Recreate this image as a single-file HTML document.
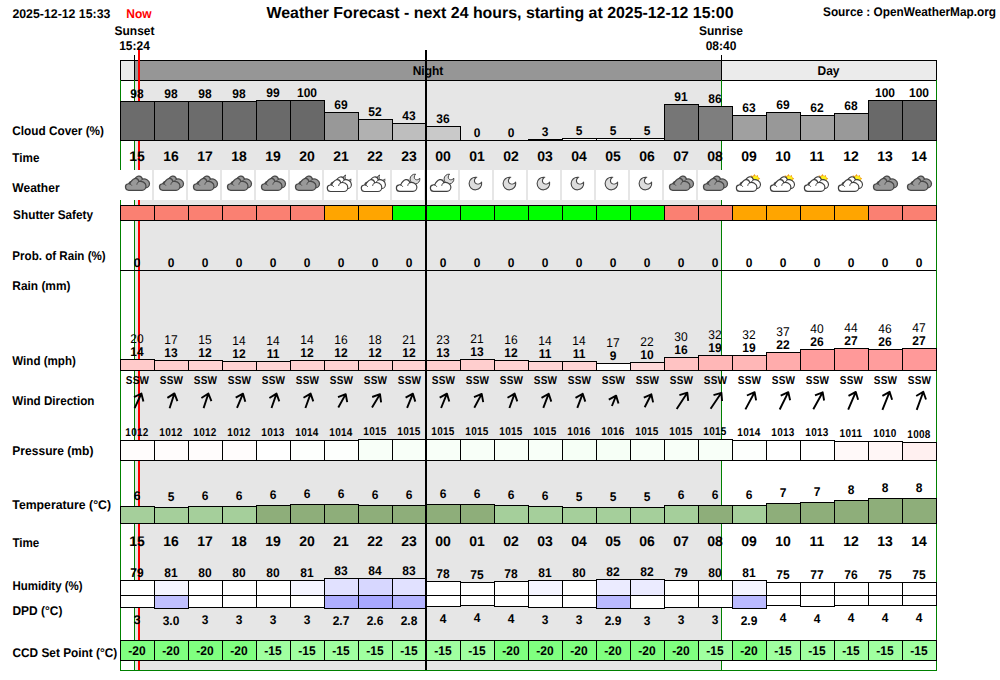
<!DOCTYPE html>
<html lang="en"><head><meta charset="utf-8"><title>Weather Forecast</title>
<style>html,body{margin:0;padding:0;background:#fff}svg{display:block}</style></head>
<body>
<svg width="1000" height="680" viewBox="0 0 1000 680" font-family='"Liberation Sans", sans-serif' shape-rendering="crispEdges" text-rendering="geometricPrecision">
<rect width="1000" height="680" fill="#fff"/>
<rect x="135" y="80" width="586" height="590" fill="#e6e6e6"/>
<text transform="translate(12.4,17.7) scale(1,1.05)" font-size="12" font-weight="bold" text-anchor="start" fill="#000" textLength="98" lengthAdjust="spacingAndGlyphs">2025-12-12 15:33</text>
<text transform="translate(139,18) scale(1,1.05)" font-size="12" font-weight="bold" text-anchor="middle" fill="#f00">Now</text>
<text x="500" y="17.5" font-size="16" font-weight="bold" text-anchor="middle" fill="#000" textLength="467" lengthAdjust="spacingAndGlyphs">Weather Forecast - next 24 hours, starting at 2025-12-12 15:00</text>
<text transform="translate(996,16) scale(1,1.05)" font-size="12" font-weight="bold" text-anchor="end" fill="#000" textLength="173" lengthAdjust="spacingAndGlyphs">Source : OpenWeatherMap.org</text>
<text transform="translate(134.5,35) scale(1,1.05)" font-size="12" font-weight="bold" text-anchor="middle" fill="#000">Sunset</text>
<text transform="translate(134.5,50) scale(1,1.05)" font-size="12" font-weight="bold" text-anchor="middle" fill="#000">15:24</text>
<text transform="translate(721,35) scale(1,1.05)" font-size="12" font-weight="bold" text-anchor="middle" fill="#000">Sunrise</text>
<text transform="translate(721,50) scale(1,1.05)" font-size="12" font-weight="bold" text-anchor="middle" fill="#000">08:40</text>
<text transform="translate(12.3,134.5) scale(1,1.05)" font-size="12" font-weight="bold" text-anchor="start" fill="#000" textLength="91.7" lengthAdjust="spacingAndGlyphs">Cloud Cover (%)</text>
<text transform="translate(12.3,161.5) scale(1,1.05)" font-size="12" font-weight="bold" text-anchor="start" fill="#000" textLength="27.1" lengthAdjust="spacingAndGlyphs">Time</text>
<text transform="translate(12.3,191.5) scale(1,1.05)" font-size="12" font-weight="bold" text-anchor="start" fill="#000" textLength="47.3" lengthAdjust="spacingAndGlyphs">Weather</text>
<text transform="translate(13.1,218.5) scale(1,1.05)" font-size="12" font-weight="bold" text-anchor="start" fill="#000" textLength="80" lengthAdjust="spacingAndGlyphs">Shutter Safety</text>
<text transform="translate(12.3,260) scale(1,1.05)" font-size="12" font-weight="bold" text-anchor="start" fill="#000" textLength="93.4" lengthAdjust="spacingAndGlyphs">Prob. of Rain (%)</text>
<text transform="translate(12.3,289.5) scale(1,1.05)" font-size="12" font-weight="bold" text-anchor="start" fill="#000" textLength="58.2" lengthAdjust="spacingAndGlyphs">Rain (mm)</text>
<text transform="translate(12.3,364.5) scale(1,1.05)" font-size="12" font-weight="bold" text-anchor="start" fill="#000" textLength="63.5" lengthAdjust="spacingAndGlyphs">Wind (mph)</text>
<text transform="translate(12.3,405) scale(1,1.05)" font-size="12" font-weight="bold" text-anchor="start" fill="#000" textLength="82.2" lengthAdjust="spacingAndGlyphs">Wind Direction</text>
<text transform="translate(12.3,454.5) scale(1,1.05)" font-size="12" font-weight="bold" text-anchor="start" fill="#000" textLength="81.1" lengthAdjust="spacingAndGlyphs">Pressure (mb)</text>
<text transform="translate(12.3,508.5) scale(1,1.05)" font-size="12" font-weight="bold" text-anchor="start" fill="#000" textLength="98.7" lengthAdjust="spacingAndGlyphs">Temperature (°C)</text>
<text transform="translate(12.4,547) scale(1,1.05)" font-size="12" font-weight="bold" text-anchor="start" fill="#000" textLength="26.9" lengthAdjust="spacingAndGlyphs">Time</text>
<text transform="translate(12.4,590) scale(1,1.05)" font-size="12" font-weight="bold" text-anchor="start" fill="#000" textLength="70.2" lengthAdjust="spacingAndGlyphs">Humidity (%)</text>
<text transform="translate(12.4,615) scale(1,1.05)" font-size="12" font-weight="bold" text-anchor="start" fill="#000" textLength="50" lengthAdjust="spacingAndGlyphs">DPD (°C)</text>
<text transform="translate(12.4,657) scale(1,1.05)" font-size="12" font-weight="bold" text-anchor="start" fill="#000" textLength="104.9" lengthAdjust="spacingAndGlyphs">CCD Set Point (°C)</text>
<rect x="120.5" y="60.5" width="14" height="20" fill="#ebebeb" stroke="#000" stroke-width="1"/>
<rect x="134.5" y="60.5" width="587" height="20" fill="#969696" stroke="#000" stroke-width="1"/>
<rect x="721.5" y="60.5" width="215" height="20" fill="#ebebeb" stroke="#000" stroke-width="1"/>
<text transform="translate(428,75) scale(1,1.05)" font-size="12" font-weight="bold" text-anchor="middle" fill="#000">Night</text>
<text transform="translate(828.5,75) scale(1,1.05)" font-size="12" font-weight="bold" text-anchor="middle" fill="#000">Day</text>
<rect x="120" y="80" width="1" height="590" fill="#008000"/>
<rect x="936" y="80" width="1" height="591" fill="#008000"/>
<rect x="120" y="670" width="817" height="1" fill="#008000"/>
<rect x="134" y="55" width="1" height="25" fill="#000"/>
<rect x="134" y="80" width="1" height="590" fill="#008000"/>
<rect x="721" y="55" width="1" height="25" fill="#000"/>
<rect x="721" y="80" width="1" height="590" fill="#008000"/>
<rect x="138" y="50" width="2" height="620" fill="#f00"/>
<rect x="120" y="270" width="816" height="1" fill="#000"/>
<rect x="120.5" y="101.5" width="34" height="39" fill="rgb(108,108,108)" stroke="#000" stroke-width="1"/>
<rect x="120.5" y="205.5" width="34" height="15" fill="#fa8072" stroke="#000" stroke-width="1"/>
<rect x="120.5" y="359.5" width="34" height="11" fill="rgb(255,202,202)" stroke="#000" stroke-width="1"/>
<rect x="120.5" y="440.5" width="34" height="20" fill="rgb(255,252,252)" stroke="#000" stroke-width="1"/>
<rect x="120.5" y="506.5" width="34" height="17" fill="#a5cf9b" stroke="#000" stroke-width="1"/>
<rect x="120.5" y="580.5" width="34" height="15" fill="rgb(255,255,255)" stroke="#000" stroke-width="1"/>
<rect x="120.5" y="595.5" width="34" height="12" fill="#fff" stroke="#000" stroke-width="1"/>
<rect x="120.5" y="640.5" width="34" height="20" fill="#80ff80" stroke="#000" stroke-width="1"/>
<text transform="translate(137,654.5) scale(1,1.05)" font-size="12" font-weight="bold" text-anchor="middle" fill="#000">-20</text>
<rect x="154.5" y="101.5" width="34" height="39" fill="rgb(108,108,108)" stroke="#000" stroke-width="1"/>
<rect x="154.5" y="205.5" width="34" height="15" fill="#fa8072" stroke="#000" stroke-width="1"/>
<rect x="154.5" y="360.5" width="34" height="10" fill="rgb(255,206,206)" stroke="#000" stroke-width="1"/>
<rect x="154.5" y="440.5" width="34" height="20" fill="rgb(255,252,252)" stroke="#000" stroke-width="1"/>
<rect x="154.5" y="507.5" width="34" height="16" fill="#a5cf9b" stroke="#000" stroke-width="1"/>
<rect x="154.5" y="580.5" width="34" height="15" fill="rgb(245,245,255)" stroke="#000" stroke-width="1"/>
<rect x="154.5" y="595.5" width="34" height="13" fill="rgb(192,192,255)" stroke="#000" stroke-width="1"/>
<rect x="154.5" y="640.5" width="34" height="20" fill="#80ff80" stroke="#000" stroke-width="1"/>
<text transform="translate(171,654.5) scale(1,1.05)" font-size="12" font-weight="bold" text-anchor="middle" fill="#000">-20</text>
<rect x="188.5" y="101.5" width="34" height="39" fill="rgb(108,108,108)" stroke="#000" stroke-width="1"/>
<rect x="188.5" y="205.5" width="34" height="15" fill="#fa8072" stroke="#000" stroke-width="1"/>
<rect x="188.5" y="360.5" width="34" height="10" fill="rgb(255,210,210)" stroke="#000" stroke-width="1"/>
<rect x="188.5" y="440.5" width="34" height="20" fill="rgb(255,252,252)" stroke="#000" stroke-width="1"/>
<rect x="188.5" y="506.5" width="34" height="17" fill="#a5cf9b" stroke="#000" stroke-width="1"/>
<rect x="188.5" y="580.5" width="34" height="15" fill="rgb(255,255,255)" stroke="#000" stroke-width="1"/>
<rect x="188.5" y="595.5" width="34" height="12" fill="#fff" stroke="#000" stroke-width="1"/>
<rect x="188.5" y="640.5" width="34" height="20" fill="#80ff80" stroke="#000" stroke-width="1"/>
<text transform="translate(205,654.5) scale(1,1.05)" font-size="12" font-weight="bold" text-anchor="middle" fill="#000">-20</text>
<rect x="222.5" y="101.5" width="34" height="39" fill="rgb(108,108,108)" stroke="#000" stroke-width="1"/>
<rect x="222.5" y="205.5" width="34" height="15" fill="#fa8072" stroke="#000" stroke-width="1"/>
<rect x="222.5" y="361.5" width="34" height="9" fill="rgb(255,210,210)" stroke="#000" stroke-width="1"/>
<rect x="222.5" y="440.5" width="34" height="20" fill="rgb(255,252,252)" stroke="#000" stroke-width="1"/>
<rect x="222.5" y="506.5" width="34" height="17" fill="#a5cf9b" stroke="#000" stroke-width="1"/>
<rect x="222.5" y="580.5" width="34" height="15" fill="rgb(255,255,255)" stroke="#000" stroke-width="1"/>
<rect x="222.5" y="595.5" width="34" height="12" fill="#fff" stroke="#000" stroke-width="1"/>
<rect x="222.5" y="640.5" width="34" height="20" fill="#80ff80" stroke="#000" stroke-width="1"/>
<text transform="translate(239,654.5) scale(1,1.05)" font-size="12" font-weight="bold" text-anchor="middle" fill="#000">-20</text>
<rect x="256.5" y="100.5" width="34" height="40" fill="rgb(106,106,106)" stroke="#000" stroke-width="1"/>
<rect x="256.5" y="205.5" width="34" height="15" fill="#fa8072" stroke="#000" stroke-width="1"/>
<rect x="256.5" y="361.5" width="34" height="9" fill="rgb(255,213,213)" stroke="#000" stroke-width="1"/>
<rect x="256.5" y="440.5" width="34" height="20" fill="rgb(255,255,255)" stroke="#000" stroke-width="1"/>
<rect x="256.5" y="505.5" width="34" height="18" fill="#8eae7a" stroke="#000" stroke-width="1"/>
<rect x="256.5" y="580.5" width="34" height="15" fill="rgb(255,255,255)" stroke="#000" stroke-width="1"/>
<rect x="256.5" y="595.5" width="34" height="12" fill="#fff" stroke="#000" stroke-width="1"/>
<rect x="256.5" y="640.5" width="34" height="20" fill="#a0ffa0" stroke="#000" stroke-width="1"/>
<text transform="translate(273,654.5) scale(1,1.05)" font-size="12" font-weight="bold" text-anchor="middle" fill="#000">-15</text>
<rect x="290.5" y="100.5" width="34" height="40" fill="rgb(105,105,105)" stroke="#000" stroke-width="1"/>
<rect x="290.5" y="205.5" width="34" height="15" fill="#fa8072" stroke="#000" stroke-width="1"/>
<rect x="290.5" y="360.5" width="34" height="10" fill="rgb(255,210,210)" stroke="#000" stroke-width="1"/>
<rect x="290.5" y="440.5" width="34" height="20" fill="rgb(253,255,253)" stroke="#000" stroke-width="1"/>
<rect x="290.5" y="504.5" width="34" height="19" fill="#8eae7a" stroke="#000" stroke-width="1"/>
<rect x="290.5" y="580.5" width="34" height="15" fill="rgb(245,245,255)" stroke="#000" stroke-width="1"/>
<rect x="290.5" y="595.5" width="34" height="12" fill="#fff" stroke="#000" stroke-width="1"/>
<rect x="290.5" y="640.5" width="34" height="20" fill="#a0ffa0" stroke="#000" stroke-width="1"/>
<text transform="translate(307,654.5) scale(1,1.05)" font-size="12" font-weight="bold" text-anchor="middle" fill="#000">-15</text>
<rect x="324.5" y="112.5" width="34" height="28" fill="rgb(152,152,152)" stroke="#000" stroke-width="1"/>
<rect x="324.5" y="205.5" width="34" height="15" fill="#ffa500" stroke="#000" stroke-width="1"/>
<rect x="324.5" y="360.5" width="34" height="10" fill="rgb(255,210,210)" stroke="#000" stroke-width="1"/>
<rect x="324.5" y="440.5" width="34" height="20" fill="rgb(253,255,253)" stroke="#000" stroke-width="1"/>
<rect x="324.5" y="504.5" width="34" height="19" fill="#8eae7a" stroke="#000" stroke-width="1"/>
<rect x="324.5" y="578.5" width="34" height="17" fill="rgb(225,225,255)" stroke="#000" stroke-width="1"/>
<rect x="324.5" y="595.5" width="34" height="13" fill="rgb(174,174,255)" stroke="#000" stroke-width="1"/>
<rect x="324.5" y="640.5" width="34" height="20" fill="#a0ffa0" stroke="#000" stroke-width="1"/>
<text transform="translate(341,654.5) scale(1,1.05)" font-size="12" font-weight="bold" text-anchor="middle" fill="#000">-15</text>
<rect x="358.5" y="119.5" width="34" height="21" fill="rgb(177,177,177)" stroke="#000" stroke-width="1"/>
<rect x="358.5" y="205.5" width="34" height="15" fill="#ffa500" stroke="#000" stroke-width="1"/>
<rect x="358.5" y="360.5" width="34" height="10" fill="rgb(255,210,210)" stroke="#000" stroke-width="1"/>
<rect x="358.5" y="439.5" width="34" height="21" fill="rgb(248,255,248)" stroke="#000" stroke-width="1"/>
<rect x="358.5" y="505.5" width="34" height="18" fill="#8eae7a" stroke="#000" stroke-width="1"/>
<rect x="358.5" y="578.5" width="34" height="17" fill="rgb(215,215,255)" stroke="#000" stroke-width="1"/>
<rect x="358.5" y="595.5" width="34" height="13" fill="rgb(168,168,255)" stroke="#000" stroke-width="1"/>
<rect x="358.5" y="640.5" width="34" height="20" fill="#a0ffa0" stroke="#000" stroke-width="1"/>
<text transform="translate(375,654.5) scale(1,1.05)" font-size="12" font-weight="bold" text-anchor="middle" fill="#000">-15</text>
<rect x="392.5" y="123.5" width="34" height="17" fill="rgb(190,190,190)" stroke="#000" stroke-width="1"/>
<rect x="392.5" y="205.5" width="34" height="15" fill="#00ff00" stroke="#000" stroke-width="1"/>
<rect x="392.5" y="360.5" width="34" height="10" fill="rgb(255,210,210)" stroke="#000" stroke-width="1"/>
<rect x="392.5" y="439.5" width="34" height="21" fill="rgb(248,255,248)" stroke="#000" stroke-width="1"/>
<rect x="392.5" y="505.5" width="34" height="18" fill="#8eae7a" stroke="#000" stroke-width="1"/>
<rect x="392.5" y="578.5" width="34" height="17" fill="rgb(225,225,255)" stroke="#000" stroke-width="1"/>
<rect x="392.5" y="595.5" width="34" height="13" fill="rgb(180,180,255)" stroke="#000" stroke-width="1"/>
<rect x="392.5" y="640.5" width="34" height="20" fill="#a0ffa0" stroke="#000" stroke-width="1"/>
<text transform="translate(409,654.5) scale(1,1.05)" font-size="12" font-weight="bold" text-anchor="middle" fill="#000">-15</text>
<rect x="426.5" y="126.5" width="34" height="14" fill="rgb(201,201,201)" stroke="#000" stroke-width="1"/>
<rect x="426.5" y="205.5" width="34" height="15" fill="#00ff00" stroke="#000" stroke-width="1"/>
<rect x="426.5" y="360.5" width="34" height="10" fill="rgb(255,206,206)" stroke="#000" stroke-width="1"/>
<rect x="426.5" y="439.5" width="34" height="21" fill="rgb(248,255,248)" stroke="#000" stroke-width="1"/>
<rect x="426.5" y="504.5" width="34" height="19" fill="#8eae7a" stroke="#000" stroke-width="1"/>
<rect x="426.5" y="581.5" width="34" height="14" fill="rgb(255,255,255)" stroke="#000" stroke-width="1"/>
<rect x="426.5" y="595.5" width="34" height="11" fill="#fff" stroke="#000" stroke-width="1"/>
<rect x="426.5" y="640.5" width="34" height="20" fill="#a0ffa0" stroke="#000" stroke-width="1"/>
<text transform="translate(443,654.5) scale(1,1.05)" font-size="12" font-weight="bold" text-anchor="middle" fill="#000">-15</text>
<rect x="460.5" y="140.5" width="34" height="0" fill="rgb(255,255,255)" stroke="#000" stroke-width="1"/>
<rect x="460" y="140" width="35" height="1" fill="#000"/>
<rect x="460.5" y="205.5" width="34" height="15" fill="#00ff00" stroke="#000" stroke-width="1"/>
<rect x="460.5" y="359.5" width="34" height="11" fill="rgb(255,206,206)" stroke="#000" stroke-width="1"/>
<rect x="460.5" y="439.5" width="34" height="21" fill="rgb(248,255,248)" stroke="#000" stroke-width="1"/>
<rect x="460.5" y="504.5" width="34" height="19" fill="#8eae7a" stroke="#000" stroke-width="1"/>
<rect x="460.5" y="582.5" width="34" height="13" fill="rgb(255,255,255)" stroke="#000" stroke-width="1"/>
<rect x="460.5" y="595.5" width="34" height="10" fill="#fff" stroke="#000" stroke-width="1"/>
<rect x="460.5" y="640.5" width="34" height="20" fill="#a0ffa0" stroke="#000" stroke-width="1"/>
<text transform="translate(477,654.5) scale(1,1.05)" font-size="12" font-weight="bold" text-anchor="middle" fill="#000">-15</text>
<rect x="494.5" y="140.5" width="34" height="0" fill="rgb(255,255,255)" stroke="#000" stroke-width="1"/>
<rect x="494" y="140" width="35" height="1" fill="#000"/>
<rect x="494.5" y="205.5" width="34" height="15" fill="#00ff00" stroke="#000" stroke-width="1"/>
<rect x="494.5" y="360.5" width="34" height="10" fill="rgb(255,210,210)" stroke="#000" stroke-width="1"/>
<rect x="494.5" y="439.5" width="34" height="21" fill="rgb(248,255,248)" stroke="#000" stroke-width="1"/>
<rect x="494.5" y="505.5" width="34" height="18" fill="#a5cf9b" stroke="#000" stroke-width="1"/>
<rect x="494.5" y="581.5" width="34" height="14" fill="rgb(255,255,255)" stroke="#000" stroke-width="1"/>
<rect x="494.5" y="595.5" width="34" height="11" fill="#fff" stroke="#000" stroke-width="1"/>
<rect x="494.5" y="640.5" width="34" height="20" fill="#80ff80" stroke="#000" stroke-width="1"/>
<text transform="translate(511,654.5) scale(1,1.05)" font-size="12" font-weight="bold" text-anchor="middle" fill="#000">-20</text>
<rect x="528.5" y="139.5" width="34" height="1" fill="rgb(250,250,250)" stroke="#000" stroke-width="1"/>
<rect x="528.5" y="205.5" width="34" height="15" fill="#00ff00" stroke="#000" stroke-width="1"/>
<rect x="528.5" y="361.5" width="34" height="9" fill="rgb(255,213,213)" stroke="#000" stroke-width="1"/>
<rect x="528.5" y="439.5" width="34" height="21" fill="rgb(248,255,248)" stroke="#000" stroke-width="1"/>
<rect x="528.5" y="506.5" width="34" height="17" fill="#a5cf9b" stroke="#000" stroke-width="1"/>
<rect x="528.5" y="580.5" width="34" height="15" fill="rgb(245,245,255)" stroke="#000" stroke-width="1"/>
<rect x="528.5" y="595.5" width="34" height="12" fill="#fff" stroke="#000" stroke-width="1"/>
<rect x="528.5" y="640.5" width="34" height="20" fill="#80ff80" stroke="#000" stroke-width="1"/>
<text transform="translate(545,654.5) scale(1,1.05)" font-size="12" font-weight="bold" text-anchor="middle" fill="#000">-20</text>
<rect x="562.5" y="138.5" width="34" height="2" fill="rgb(248,248,248)" stroke="#000" stroke-width="1"/>
<rect x="562.5" y="205.5" width="34" height="15" fill="#00ff00" stroke="#000" stroke-width="1"/>
<rect x="562.5" y="361.5" width="34" height="9" fill="rgb(255,213,213)" stroke="#000" stroke-width="1"/>
<rect x="562.5" y="439.5" width="34" height="21" fill="rgb(246,255,246)" stroke="#000" stroke-width="1"/>
<rect x="562.5" y="507.5" width="34" height="16" fill="#a5cf9b" stroke="#000" stroke-width="1"/>
<rect x="562.5" y="580.5" width="34" height="15" fill="rgb(255,255,255)" stroke="#000" stroke-width="1"/>
<rect x="562.5" y="595.5" width="34" height="12" fill="#fff" stroke="#000" stroke-width="1"/>
<rect x="562.5" y="640.5" width="34" height="20" fill="#80ff80" stroke="#000" stroke-width="1"/>
<text transform="translate(579,654.5) scale(1,1.05)" font-size="12" font-weight="bold" text-anchor="middle" fill="#000">-20</text>
<rect x="596.5" y="138.5" width="34" height="2" fill="rgb(248,248,248)" stroke="#000" stroke-width="1"/>
<rect x="596.5" y="205.5" width="34" height="15" fill="#00ff00" stroke="#000" stroke-width="1"/>
<rect x="596.5" y="363.5" width="34" height="7" fill="rgb(255,255,255)" stroke="#000" stroke-width="1"/>
<rect x="596.5" y="439.5" width="34" height="21" fill="rgb(246,255,246)" stroke="#000" stroke-width="1"/>
<rect x="596.5" y="507.5" width="34" height="16" fill="#a5cf9b" stroke="#000" stroke-width="1"/>
<rect x="596.5" y="579.5" width="34" height="16" fill="rgb(235,235,255)" stroke="#000" stroke-width="1"/>
<rect x="596.5" y="595.5" width="34" height="13" fill="rgb(186,186,255)" stroke="#000" stroke-width="1"/>
<rect x="596.5" y="640.5" width="34" height="20" fill="#80ff80" stroke="#000" stroke-width="1"/>
<text transform="translate(613,654.5) scale(1,1.05)" font-size="12" font-weight="bold" text-anchor="middle" fill="#000">-20</text>
<rect x="630.5" y="138.5" width="34" height="2" fill="rgb(248,248,248)" stroke="#000" stroke-width="1"/>
<rect x="630.5" y="205.5" width="34" height="15" fill="#00ff00" stroke="#000" stroke-width="1"/>
<rect x="630.5" y="362.5" width="34" height="8" fill="rgb(255,217,217)" stroke="#000" stroke-width="1"/>
<rect x="630.5" y="439.5" width="34" height="21" fill="rgb(248,255,248)" stroke="#000" stroke-width="1"/>
<rect x="630.5" y="507.5" width="34" height="16" fill="#a5cf9b" stroke="#000" stroke-width="1"/>
<rect x="630.5" y="579.5" width="34" height="16" fill="rgb(235,235,255)" stroke="#000" stroke-width="1"/>
<rect x="630.5" y="595.5" width="34" height="13" fill="#fff" stroke="#000" stroke-width="1"/>
<rect x="630.5" y="640.5" width="34" height="20" fill="#80ff80" stroke="#000" stroke-width="1"/>
<text transform="translate(647,654.5) scale(1,1.05)" font-size="12" font-weight="bold" text-anchor="middle" fill="#000">-20</text>
<rect x="664.5" y="104.5" width="34" height="36" fill="rgb(118,118,118)" stroke="#000" stroke-width="1"/>
<rect x="664.5" y="205.5" width="34" height="15" fill="#fa8072" stroke="#000" stroke-width="1"/>
<rect x="664.5" y="357.5" width="34" height="13" fill="rgb(255,195,195)" stroke="#000" stroke-width="1"/>
<rect x="664.5" y="439.5" width="34" height="21" fill="rgb(248,255,248)" stroke="#000" stroke-width="1"/>
<rect x="664.5" y="505.5" width="34" height="18" fill="#a5cf9b" stroke="#000" stroke-width="1"/>
<rect x="664.5" y="580.5" width="34" height="15" fill="rgb(255,255,255)" stroke="#000" stroke-width="1"/>
<rect x="664.5" y="595.5" width="34" height="12" fill="#fff" stroke="#000" stroke-width="1"/>
<rect x="664.5" y="640.5" width="34" height="20" fill="#80ff80" stroke="#000" stroke-width="1"/>
<text transform="translate(681,654.5) scale(1,1.05)" font-size="12" font-weight="bold" text-anchor="middle" fill="#000">-20</text>
<rect x="698.5" y="106.5" width="34" height="34" fill="rgb(126,126,126)" stroke="#000" stroke-width="1"/>
<rect x="698.5" y="205.5" width="34" height="15" fill="#fa8072" stroke="#000" stroke-width="1"/>
<rect x="698.5" y="355.5" width="34" height="15" fill="rgb(255,183,183)" stroke="#000" stroke-width="1"/>
<rect x="698.5" y="439.5" width="34" height="21" fill="rgb(248,255,248)" stroke="#000" stroke-width="1"/>
<rect x="698.5" y="505.5" width="34" height="18" fill="#8eae7a" stroke="#000" stroke-width="1"/>
<rect x="698.5" y="580.5" width="34" height="15" fill="rgb(255,255,255)" stroke="#000" stroke-width="1"/>
<rect x="698.5" y="595.5" width="34" height="12" fill="#fff" stroke="#000" stroke-width="1"/>
<rect x="698.5" y="640.5" width="34" height="20" fill="#a0ffa0" stroke="#000" stroke-width="1"/>
<text transform="translate(715,654.5) scale(1,1.05)" font-size="12" font-weight="bold" text-anchor="middle" fill="#000">-15</text>
<rect x="732.5" y="115.5" width="34" height="25" fill="rgb(160,160,160)" stroke="#000" stroke-width="1"/>
<rect x="732.5" y="205.5" width="34" height="15" fill="#ffa500" stroke="#000" stroke-width="1"/>
<rect x="732.5" y="355.5" width="34" height="15" fill="rgb(255,183,183)" stroke="#000" stroke-width="1"/>
<rect x="732.5" y="440.5" width="34" height="20" fill="rgb(253,255,253)" stroke="#000" stroke-width="1"/>
<rect x="732.5" y="505.5" width="34" height="18" fill="#a5cf9b" stroke="#000" stroke-width="1"/>
<rect x="732.5" y="580.5" width="34" height="15" fill="rgb(245,245,255)" stroke="#000" stroke-width="1"/>
<rect x="732.5" y="595.5" width="34" height="13" fill="rgb(186,186,255)" stroke="#000" stroke-width="1"/>
<rect x="732.5" y="640.5" width="34" height="20" fill="#80ff80" stroke="#000" stroke-width="1"/>
<text transform="translate(749,654.5) scale(1,1.05)" font-size="12" font-weight="bold" text-anchor="middle" fill="#000">-20</text>
<rect x="766.5" y="112.5" width="34" height="28" fill="rgb(152,152,152)" stroke="#000" stroke-width="1"/>
<rect x="766.5" y="205.5" width="34" height="15" fill="#ffa500" stroke="#000" stroke-width="1"/>
<rect x="766.5" y="352.5" width="34" height="18" fill="rgb(255,172,172)" stroke="#000" stroke-width="1"/>
<rect x="766.5" y="440.5" width="34" height="20" fill="rgb(255,255,255)" stroke="#000" stroke-width="1"/>
<rect x="766.5" y="503.5" width="34" height="20" fill="#8eae7a" stroke="#000" stroke-width="1"/>
<rect x="766.5" y="582.5" width="34" height="13" fill="rgb(255,255,255)" stroke="#000" stroke-width="1"/>
<rect x="766.5" y="595.5" width="34" height="10" fill="#fff" stroke="#000" stroke-width="1"/>
<rect x="766.5" y="640.5" width="34" height="20" fill="#a0ffa0" stroke="#000" stroke-width="1"/>
<text transform="translate(783,654.5) scale(1,1.05)" font-size="12" font-weight="bold" text-anchor="middle" fill="#000">-15</text>
<rect x="800.5" y="115.5" width="34" height="25" fill="rgb(162,162,162)" stroke="#000" stroke-width="1"/>
<rect x="800.5" y="205.5" width="34" height="15" fill="#ffa500" stroke="#000" stroke-width="1"/>
<rect x="800.5" y="349.5" width="34" height="21" fill="rgb(255,157,157)" stroke="#000" stroke-width="1"/>
<rect x="800.5" y="440.5" width="34" height="20" fill="rgb(255,255,255)" stroke="#000" stroke-width="1"/>
<rect x="800.5" y="502.5" width="34" height="21" fill="#8eae7a" stroke="#000" stroke-width="1"/>
<rect x="800.5" y="582.5" width="34" height="13" fill="rgb(255,255,255)" stroke="#000" stroke-width="1"/>
<rect x="800.5" y="595.5" width="34" height="11" fill="#fff" stroke="#000" stroke-width="1"/>
<rect x="800.5" y="640.5" width="34" height="20" fill="#a0ffa0" stroke="#000" stroke-width="1"/>
<text transform="translate(817,654.5) scale(1,1.05)" font-size="12" font-weight="bold" text-anchor="middle" fill="#000">-15</text>
<rect x="834.5" y="113.5" width="34" height="27" fill="rgb(153,153,153)" stroke="#000" stroke-width="1"/>
<rect x="834.5" y="205.5" width="34" height="15" fill="#ffa500" stroke="#000" stroke-width="1"/>
<rect x="834.5" y="348.5" width="34" height="22" fill="rgb(255,153,153)" stroke="#000" stroke-width="1"/>
<rect x="834.5" y="441.5" width="34" height="19" fill="rgb(255,249,249)" stroke="#000" stroke-width="1"/>
<rect x="834.5" y="500.5" width="34" height="23" fill="#8eae7a" stroke="#000" stroke-width="1"/>
<rect x="834.5" y="582.5" width="34" height="13" fill="rgb(255,255,255)" stroke="#000" stroke-width="1"/>
<rect x="834.5" y="595.5" width="34" height="10" fill="#fff" stroke="#000" stroke-width="1"/>
<rect x="834.5" y="640.5" width="34" height="20" fill="#a0ffa0" stroke="#000" stroke-width="1"/>
<text transform="translate(851,654.5) scale(1,1.05)" font-size="12" font-weight="bold" text-anchor="middle" fill="#000">-15</text>
<rect x="868.5" y="100.5" width="34" height="40" fill="rgb(105,105,105)" stroke="#000" stroke-width="1"/>
<rect x="868.5" y="205.5" width="34" height="15" fill="#fa8072" stroke="#000" stroke-width="1"/>
<rect x="868.5" y="349.5" width="34" height="21" fill="rgb(255,157,157)" stroke="#000" stroke-width="1"/>
<rect x="868.5" y="441.5" width="34" height="19" fill="rgb(255,246,246)" stroke="#000" stroke-width="1"/>
<rect x="868.5" y="498.5" width="34" height="25" fill="#8eae7a" stroke="#000" stroke-width="1"/>
<rect x="868.5" y="582.5" width="34" height="13" fill="rgb(255,255,255)" stroke="#000" stroke-width="1"/>
<rect x="868.5" y="595.5" width="34" height="10" fill="#fff" stroke="#000" stroke-width="1"/>
<rect x="868.5" y="640.5" width="34" height="20" fill="#a0ffa0" stroke="#000" stroke-width="1"/>
<text transform="translate(885,654.5) scale(1,1.05)" font-size="12" font-weight="bold" text-anchor="middle" fill="#000">-15</text>
<rect x="902.5" y="100.5" width="34" height="40" fill="rgb(105,105,105)" stroke="#000" stroke-width="1"/>
<rect x="902.5" y="205.5" width="34" height="15" fill="#fa8072" stroke="#000" stroke-width="1"/>
<rect x="902.5" y="348.5" width="34" height="22" fill="rgb(255,153,153)" stroke="#000" stroke-width="1"/>
<rect x="902.5" y="442.5" width="34" height="18" fill="rgb(255,240,240)" stroke="#000" stroke-width="1"/>
<rect x="902.5" y="498.5" width="34" height="25" fill="#8eae7a" stroke="#000" stroke-width="1"/>
<rect x="902.5" y="582.5" width="34" height="13" fill="rgb(255,255,255)" stroke="#000" stroke-width="1"/>
<rect x="902.5" y="595.5" width="34" height="10" fill="#fff" stroke="#000" stroke-width="1"/>
<rect x="902.5" y="640.5" width="34" height="20" fill="#a0ffa0" stroke="#000" stroke-width="1"/>
<text transform="translate(919,654.5) scale(1,1.05)" font-size="12" font-weight="bold" text-anchor="middle" fill="#000">-15</text>
<g transform="translate(120,170)" shape-rendering="geometricPrecision">
<rect width="32" height="30" fill="#fff" shape-rendering="crispEdges"/>
<g transform="translate(3.8,-1.8)"><path d="M8.5,19.7 A3.3,3.3 0 0 1 7.9,13.15 Q8.8,12.95 9.5,13.2 C10.3,11.3 12.2,8.6 14.5,7.95 C16.6,7.6 18.2,9.1 18.6,10.9 C19.8,10.6 21.6,10.6 23.2,11.5 C24.8,12.4 25.7,13.9 25.7,15.4 C25.7,17.8 23.9,19.7 21.8,19.7 Z" fill="#999" stroke="#484848" stroke-width="1.25"/><path d="M9.5,13.2 C10.3,13.5 11,14 11.4,14.7 M18.6,10.9 C17.5,11.5 16.8,12.5 16.6,13.7" fill="none" stroke="#484848" stroke-width="1.0" stroke-linecap="round"/></g><g transform="translate(0.3,0.6)"><path d="M8.5,19.7 A3.3,3.3 0 0 1 7.9,13.15 Q8.8,12.95 9.5,13.2 C10.3,11.3 12.2,8.6 14.5,7.95 C16.6,7.6 18.2,9.1 18.6,10.9 C19.8,10.6 21.6,10.6 23.2,11.5 C24.8,12.4 25.7,13.9 25.7,15.4 C25.7,17.8 23.9,19.7 21.8,19.7 Z" fill="#999" stroke="#484848" stroke-width="1.25"/><path d="M9.5,13.2 C10.3,13.5 11,14 11.4,14.7 M18.6,10.9 C17.5,11.5 16.8,12.5 16.6,13.7" fill="none" stroke="#484848" stroke-width="1.0" stroke-linecap="round"/></g>
</g>
<g transform="translate(154,170)" shape-rendering="geometricPrecision">
<rect width="32" height="30" fill="#fff" shape-rendering="crispEdges"/>
<g transform="translate(3.8,-1.8)"><path d="M8.5,19.7 A3.3,3.3 0 0 1 7.9,13.15 Q8.8,12.95 9.5,13.2 C10.3,11.3 12.2,8.6 14.5,7.95 C16.6,7.6 18.2,9.1 18.6,10.9 C19.8,10.6 21.6,10.6 23.2,11.5 C24.8,12.4 25.7,13.9 25.7,15.4 C25.7,17.8 23.9,19.7 21.8,19.7 Z" fill="#999" stroke="#484848" stroke-width="1.25"/><path d="M9.5,13.2 C10.3,13.5 11,14 11.4,14.7 M18.6,10.9 C17.5,11.5 16.8,12.5 16.6,13.7" fill="none" stroke="#484848" stroke-width="1.0" stroke-linecap="round"/></g><g transform="translate(0.3,0.6)"><path d="M8.5,19.7 A3.3,3.3 0 0 1 7.9,13.15 Q8.8,12.95 9.5,13.2 C10.3,11.3 12.2,8.6 14.5,7.95 C16.6,7.6 18.2,9.1 18.6,10.9 C19.8,10.6 21.6,10.6 23.2,11.5 C24.8,12.4 25.7,13.9 25.7,15.4 C25.7,17.8 23.9,19.7 21.8,19.7 Z" fill="#999" stroke="#484848" stroke-width="1.25"/><path d="M9.5,13.2 C10.3,13.5 11,14 11.4,14.7 M18.6,10.9 C17.5,11.5 16.8,12.5 16.6,13.7" fill="none" stroke="#484848" stroke-width="1.0" stroke-linecap="round"/></g>
</g>
<g transform="translate(188,170)" shape-rendering="geometricPrecision">
<rect width="32" height="30" fill="#fff" shape-rendering="crispEdges"/>
<g transform="translate(3.8,-1.8)"><path d="M8.5,19.7 A3.3,3.3 0 0 1 7.9,13.15 Q8.8,12.95 9.5,13.2 C10.3,11.3 12.2,8.6 14.5,7.95 C16.6,7.6 18.2,9.1 18.6,10.9 C19.8,10.6 21.6,10.6 23.2,11.5 C24.8,12.4 25.7,13.9 25.7,15.4 C25.7,17.8 23.9,19.7 21.8,19.7 Z" fill="#999" stroke="#484848" stroke-width="1.25"/><path d="M9.5,13.2 C10.3,13.5 11,14 11.4,14.7 M18.6,10.9 C17.5,11.5 16.8,12.5 16.6,13.7" fill="none" stroke="#484848" stroke-width="1.0" stroke-linecap="round"/></g><g transform="translate(0.3,0.6)"><path d="M8.5,19.7 A3.3,3.3 0 0 1 7.9,13.15 Q8.8,12.95 9.5,13.2 C10.3,11.3 12.2,8.6 14.5,7.95 C16.6,7.6 18.2,9.1 18.6,10.9 C19.8,10.6 21.6,10.6 23.2,11.5 C24.8,12.4 25.7,13.9 25.7,15.4 C25.7,17.8 23.9,19.7 21.8,19.7 Z" fill="#999" stroke="#484848" stroke-width="1.25"/><path d="M9.5,13.2 C10.3,13.5 11,14 11.4,14.7 M18.6,10.9 C17.5,11.5 16.8,12.5 16.6,13.7" fill="none" stroke="#484848" stroke-width="1.0" stroke-linecap="round"/></g>
</g>
<g transform="translate(222,170)" shape-rendering="geometricPrecision">
<rect width="32" height="30" fill="#fff" shape-rendering="crispEdges"/>
<g transform="translate(3.8,-1.8)"><path d="M8.5,19.7 A3.3,3.3 0 0 1 7.9,13.15 Q8.8,12.95 9.5,13.2 C10.3,11.3 12.2,8.6 14.5,7.95 C16.6,7.6 18.2,9.1 18.6,10.9 C19.8,10.6 21.6,10.6 23.2,11.5 C24.8,12.4 25.7,13.9 25.7,15.4 C25.7,17.8 23.9,19.7 21.8,19.7 Z" fill="#999" stroke="#484848" stroke-width="1.25"/><path d="M9.5,13.2 C10.3,13.5 11,14 11.4,14.7 M18.6,10.9 C17.5,11.5 16.8,12.5 16.6,13.7" fill="none" stroke="#484848" stroke-width="1.0" stroke-linecap="round"/></g><g transform="translate(0.3,0.6)"><path d="M8.5,19.7 A3.3,3.3 0 0 1 7.9,13.15 Q8.8,12.95 9.5,13.2 C10.3,11.3 12.2,8.6 14.5,7.95 C16.6,7.6 18.2,9.1 18.6,10.9 C19.8,10.6 21.6,10.6 23.2,11.5 C24.8,12.4 25.7,13.9 25.7,15.4 C25.7,17.8 23.9,19.7 21.8,19.7 Z" fill="#999" stroke="#484848" stroke-width="1.25"/><path d="M9.5,13.2 C10.3,13.5 11,14 11.4,14.7 M18.6,10.9 C17.5,11.5 16.8,12.5 16.6,13.7" fill="none" stroke="#484848" stroke-width="1.0" stroke-linecap="round"/></g>
</g>
<g transform="translate(256,170)" shape-rendering="geometricPrecision">
<rect width="32" height="30" fill="#fff" shape-rendering="crispEdges"/>
<g transform="translate(3.8,-1.8)"><path d="M8.5,19.7 A3.3,3.3 0 0 1 7.9,13.15 Q8.8,12.95 9.5,13.2 C10.3,11.3 12.2,8.6 14.5,7.95 C16.6,7.6 18.2,9.1 18.6,10.9 C19.8,10.6 21.6,10.6 23.2,11.5 C24.8,12.4 25.7,13.9 25.7,15.4 C25.7,17.8 23.9,19.7 21.8,19.7 Z" fill="#999" stroke="#484848" stroke-width="1.25"/><path d="M9.5,13.2 C10.3,13.5 11,14 11.4,14.7 M18.6,10.9 C17.5,11.5 16.8,12.5 16.6,13.7" fill="none" stroke="#484848" stroke-width="1.0" stroke-linecap="round"/></g><g transform="translate(0.3,0.6)"><path d="M8.5,19.7 A3.3,3.3 0 0 1 7.9,13.15 Q8.8,12.95 9.5,13.2 C10.3,11.3 12.2,8.6 14.5,7.95 C16.6,7.6 18.2,9.1 18.6,10.9 C19.8,10.6 21.6,10.6 23.2,11.5 C24.8,12.4 25.7,13.9 25.7,15.4 C25.7,17.8 23.9,19.7 21.8,19.7 Z" fill="#999" stroke="#484848" stroke-width="1.25"/><path d="M9.5,13.2 C10.3,13.5 11,14 11.4,14.7 M18.6,10.9 C17.5,11.5 16.8,12.5 16.6,13.7" fill="none" stroke="#484848" stroke-width="1.0" stroke-linecap="round"/></g>
</g>
<g transform="translate(290,170)" shape-rendering="geometricPrecision">
<rect width="32" height="30" fill="#fff" shape-rendering="crispEdges"/>
<g transform="translate(3.8,-1.8)"><path d="M8.5,19.7 A3.3,3.3 0 0 1 7.9,13.15 Q8.8,12.95 9.5,13.2 C10.3,11.3 12.2,8.6 14.5,7.95 C16.6,7.6 18.2,9.1 18.6,10.9 C19.8,10.6 21.6,10.6 23.2,11.5 C24.8,12.4 25.7,13.9 25.7,15.4 C25.7,17.8 23.9,19.7 21.8,19.7 Z" fill="#999" stroke="#484848" stroke-width="1.25"/><path d="M9.5,13.2 C10.3,13.5 11,14 11.4,14.7 M18.6,10.9 C17.5,11.5 16.8,12.5 16.6,13.7" fill="none" stroke="#484848" stroke-width="1.0" stroke-linecap="round"/></g><g transform="translate(0.3,0.6)"><path d="M8.5,19.7 A3.3,3.3 0 0 1 7.9,13.15 Q8.8,12.95 9.5,13.2 C10.3,11.3 12.2,8.6 14.5,7.95 C16.6,7.6 18.2,9.1 18.6,10.9 C19.8,10.6 21.6,10.6 23.2,11.5 C24.8,12.4 25.7,13.9 25.7,15.4 C25.7,17.8 23.9,19.7 21.8,19.7 Z" fill="#999" stroke="#484848" stroke-width="1.25"/><path d="M9.5,13.2 C10.3,13.5 11,14 11.4,14.7 M18.6,10.9 C17.5,11.5 16.8,12.5 16.6,13.7" fill="none" stroke="#484848" stroke-width="1.0" stroke-linecap="round"/></g>
</g>
<g transform="translate(324,170)" shape-rendering="geometricPrecision">
<rect width="32" height="30" fill="#fff" shape-rendering="crispEdges"/>
<path d="M21.6,5.0 C20.4,7.2 21.2,9.8 23.4,10.4 C24.8,10.6 26,10 26.8,8.9 C27.2,11.4 26,13.6 24,14.6 L18.5,11 C18,8.5 19.4,6.2 21.6,5.0 Z" fill="#ddd" stroke="#454545" stroke-width="1"/>
<g transform="translate(1.7,-1)"><path d="M8.5,19.7 A3.3,3.3 0 0 1 7.9,13.15 Q8.8,12.95 9.5,13.2 C10.3,11.3 12.2,8.6 14.5,7.95 C16.6,7.6 18.2,9.1 18.6,10.9 C19.8,10.6 21.6,10.6 23.2,11.5 C24.8,12.4 25.7,13.9 25.7,15.4 C25.7,17.8 23.9,19.7 21.8,19.7 Z" fill="#fff" stroke="#404040" stroke-width="1.15"/><path d="M9.5,13.2 C10.3,13.5 11,14 11.4,14.7 M18.6,10.9 C17.5,11.5 16.8,12.5 16.6,13.7" fill="none" stroke="#404040" stroke-width="1.0" stroke-linecap="round"/></g><g transform="translate(-1.9,1.8)"><path d="M8.5,19.7 A3.3,3.3 0 0 1 7.9,13.15 Q8.8,12.95 9.5,13.2 C10.3,11.3 12.2,8.6 14.5,7.95 C16.6,7.6 18.2,9.1 18.6,10.9 C19.8,10.6 21.6,10.6 23.2,11.5 C24.8,12.4 25.7,13.9 25.7,15.4 C25.7,17.8 23.9,19.7 21.8,19.7 Z" fill="#fff" stroke="#404040" stroke-width="1.15"/><path d="M9.5,13.2 C10.3,13.5 11,14 11.4,14.7 M18.6,10.9 C17.5,11.5 16.8,12.5 16.6,13.7" fill="none" stroke="#404040" stroke-width="1.0" stroke-linecap="round"/></g>
</g>
<g transform="translate(358,170)" shape-rendering="geometricPrecision">
<rect width="32" height="30" fill="#fff" shape-rendering="crispEdges"/>
<path d="M21.6,5.0 C20.4,7.2 21.2,9.8 23.4,10.4 C24.8,10.6 26,10 26.8,8.9 C27.2,11.4 26,13.6 24,14.6 L18.5,11 C18,8.5 19.4,6.2 21.6,5.0 Z" fill="#ddd" stroke="#454545" stroke-width="1"/>
<g transform="translate(1.7,-1)"><path d="M8.5,19.7 A3.3,3.3 0 0 1 7.9,13.15 Q8.8,12.95 9.5,13.2 C10.3,11.3 12.2,8.6 14.5,7.95 C16.6,7.6 18.2,9.1 18.6,10.9 C19.8,10.6 21.6,10.6 23.2,11.5 C24.8,12.4 25.7,13.9 25.7,15.4 C25.7,17.8 23.9,19.7 21.8,19.7 Z" fill="#fff" stroke="#404040" stroke-width="1.15"/><path d="M9.5,13.2 C10.3,13.5 11,14 11.4,14.7 M18.6,10.9 C17.5,11.5 16.8,12.5 16.6,13.7" fill="none" stroke="#404040" stroke-width="1.0" stroke-linecap="round"/></g><g transform="translate(-1.9,1.8)"><path d="M8.5,19.7 A3.3,3.3 0 0 1 7.9,13.15 Q8.8,12.95 9.5,13.2 C10.3,11.3 12.2,8.6 14.5,7.95 C16.6,7.6 18.2,9.1 18.6,10.9 C19.8,10.6 21.6,10.6 23.2,11.5 C24.8,12.4 25.7,13.9 25.7,15.4 C25.7,17.8 23.9,19.7 21.8,19.7 Z" fill="#fff" stroke="#404040" stroke-width="1.15"/><path d="M9.5,13.2 C10.3,13.5 11,14 11.4,14.7 M18.6,10.9 C17.5,11.5 16.8,12.5 16.6,13.7" fill="none" stroke="#404040" stroke-width="1.0" stroke-linecap="round"/></g>
</g>
<g transform="translate(392,170)" shape-rendering="geometricPrecision">
<rect width="32" height="30" fill="#fff" shape-rendering="crispEdges"/>
<path d="M23.6,4.2 C21.8,6 21.8,8.4 23.4,9.4 C24.9,10.3 26.8,9.6 27.8,8.2 A4.9,4.9 0 1 1 23.6,4.2 Z" fill="#ddd" stroke="#454545" stroke-width="1"/>
<g transform="translate(-0.8,1.7)"><path d="M8.5,19.7 A3.3,3.3 0 0 1 7.9,13.15 Q8.8,12.95 9.5,13.2 C10.3,11.3 12.2,8.6 14.5,7.95 C16.6,7.6 18.2,9.1 18.6,10.9 C19.8,10.6 21.6,10.6 23.2,11.5 C24.8,12.4 25.7,13.9 25.7,15.4 C25.7,17.8 23.9,19.7 21.8,19.7 Z" fill="#fff" stroke="#404040" stroke-width="1.15"/><path d="M9.5,13.2 C10.3,13.5 11,14 11.4,14.7 M18.6,10.9 C17.5,11.5 16.8,12.5 16.6,13.7" fill="none" stroke="#404040" stroke-width="1.0" stroke-linecap="round"/></g>
</g>
<g transform="translate(426,170)" shape-rendering="geometricPrecision">
<rect width="32" height="30" fill="#fff" shape-rendering="crispEdges"/>
<path d="M23.6,4.2 C21.8,6 21.8,8.4 23.4,9.4 C24.9,10.3 26.8,9.6 27.8,8.2 A4.9,4.9 0 1 1 23.6,4.2 Z" fill="#ddd" stroke="#454545" stroke-width="1"/>
<g transform="translate(-0.8,1.7)"><path d="M8.5,19.7 A3.3,3.3 0 0 1 7.9,13.15 Q8.8,12.95 9.5,13.2 C10.3,11.3 12.2,8.6 14.5,7.95 C16.6,7.6 18.2,9.1 18.6,10.9 C19.8,10.6 21.6,10.6 23.2,11.5 C24.8,12.4 25.7,13.9 25.7,15.4 C25.7,17.8 23.9,19.7 21.8,19.7 Z" fill="#fff" stroke="#404040" stroke-width="1.15"/><path d="M9.5,13.2 C10.3,13.5 11,14 11.4,14.7 M18.6,10.9 C17.5,11.5 16.8,12.5 16.6,13.7" fill="none" stroke="#404040" stroke-width="1.0" stroke-linecap="round"/></g>
</g>
<g transform="translate(460,170)" shape-rendering="geometricPrecision">
<rect width="32" height="30" fill="#fff" shape-rendering="crispEdges"/>
<path d="M16.3,7.3 C14.2,9 13.8,11.5 15.4,13.1 C17,14.6 19.8,14.2 21.6,12.4 A6.3,6.3 0 1 1 16.3,7.3 Z" fill="#ddd" stroke="#454545" stroke-width="1.1"/>
</g>
<g transform="translate(494,170)" shape-rendering="geometricPrecision">
<rect width="32" height="30" fill="#fff" shape-rendering="crispEdges"/>
<path d="M16.3,7.3 C14.2,9 13.8,11.5 15.4,13.1 C17,14.6 19.8,14.2 21.6,12.4 A6.3,6.3 0 1 1 16.3,7.3 Z" fill="#ddd" stroke="#454545" stroke-width="1.1"/>
</g>
<g transform="translate(528,170)" shape-rendering="geometricPrecision">
<rect width="32" height="30" fill="#fff" shape-rendering="crispEdges"/>
<path d="M16.3,7.3 C14.2,9 13.8,11.5 15.4,13.1 C17,14.6 19.8,14.2 21.6,12.4 A6.3,6.3 0 1 1 16.3,7.3 Z" fill="#ddd" stroke="#454545" stroke-width="1.1"/>
</g>
<g transform="translate(562,170)" shape-rendering="geometricPrecision">
<rect width="32" height="30" fill="#fff" shape-rendering="crispEdges"/>
<path d="M16.3,7.3 C14.2,9 13.8,11.5 15.4,13.1 C17,14.6 19.8,14.2 21.6,12.4 A6.3,6.3 0 1 1 16.3,7.3 Z" fill="#ddd" stroke="#454545" stroke-width="1.1"/>
</g>
<g transform="translate(596,170)" shape-rendering="geometricPrecision">
<rect width="32" height="30" fill="#fff" shape-rendering="crispEdges"/>
<path d="M16.3,7.3 C14.2,9 13.8,11.5 15.4,13.1 C17,14.6 19.8,14.2 21.6,12.4 A6.3,6.3 0 1 1 16.3,7.3 Z" fill="#ddd" stroke="#454545" stroke-width="1.1"/>
</g>
<g transform="translate(630,170)" shape-rendering="geometricPrecision">
<rect width="32" height="30" fill="#fff" shape-rendering="crispEdges"/>
<path d="M16.3,7.3 C14.2,9 13.8,11.5 15.4,13.1 C17,14.6 19.8,14.2 21.6,12.4 A6.3,6.3 0 1 1 16.3,7.3 Z" fill="#ddd" stroke="#454545" stroke-width="1.1"/>
</g>
<g transform="translate(664,170)" shape-rendering="geometricPrecision">
<rect width="32" height="30" fill="#fff" shape-rendering="crispEdges"/>
<g transform="translate(3.8,-1.8)"><path d="M8.5,19.7 A3.3,3.3 0 0 1 7.9,13.15 Q8.8,12.95 9.5,13.2 C10.3,11.3 12.2,8.6 14.5,7.95 C16.6,7.6 18.2,9.1 18.6,10.9 C19.8,10.6 21.6,10.6 23.2,11.5 C24.8,12.4 25.7,13.9 25.7,15.4 C25.7,17.8 23.9,19.7 21.8,19.7 Z" fill="#999" stroke="#484848" stroke-width="1.25"/><path d="M9.5,13.2 C10.3,13.5 11,14 11.4,14.7 M18.6,10.9 C17.5,11.5 16.8,12.5 16.6,13.7" fill="none" stroke="#484848" stroke-width="1.0" stroke-linecap="round"/></g><g transform="translate(0.3,0.6)"><path d="M8.5,19.7 A3.3,3.3 0 0 1 7.9,13.15 Q8.8,12.95 9.5,13.2 C10.3,11.3 12.2,8.6 14.5,7.95 C16.6,7.6 18.2,9.1 18.6,10.9 C19.8,10.6 21.6,10.6 23.2,11.5 C24.8,12.4 25.7,13.9 25.7,15.4 C25.7,17.8 23.9,19.7 21.8,19.7 Z" fill="#999" stroke="#484848" stroke-width="1.25"/><path d="M9.5,13.2 C10.3,13.5 11,14 11.4,14.7 M18.6,10.9 C17.5,11.5 16.8,12.5 16.6,13.7" fill="none" stroke="#484848" stroke-width="1.0" stroke-linecap="round"/></g>
</g>
<g transform="translate(698,170)" shape-rendering="geometricPrecision">
<rect width="32" height="30" fill="#fff" shape-rendering="crispEdges"/>
<g transform="translate(3.8,-1.8)"><path d="M8.5,19.7 A3.3,3.3 0 0 1 7.9,13.15 Q8.8,12.95 9.5,13.2 C10.3,11.3 12.2,8.6 14.5,7.95 C16.6,7.6 18.2,9.1 18.6,10.9 C19.8,10.6 21.6,10.6 23.2,11.5 C24.8,12.4 25.7,13.9 25.7,15.4 C25.7,17.8 23.9,19.7 21.8,19.7 Z" fill="#999" stroke="#484848" stroke-width="1.25"/><path d="M9.5,13.2 C10.3,13.5 11,14 11.4,14.7 M18.6,10.9 C17.5,11.5 16.8,12.5 16.6,13.7" fill="none" stroke="#484848" stroke-width="1.0" stroke-linecap="round"/></g><g transform="translate(0.3,0.6)"><path d="M8.5,19.7 A3.3,3.3 0 0 1 7.9,13.15 Q8.8,12.95 9.5,13.2 C10.3,11.3 12.2,8.6 14.5,7.95 C16.6,7.6 18.2,9.1 18.6,10.9 C19.8,10.6 21.6,10.6 23.2,11.5 C24.8,12.4 25.7,13.9 25.7,15.4 C25.7,17.8 23.9,19.7 21.8,19.7 Z" fill="#999" stroke="#484848" stroke-width="1.25"/><path d="M9.5,13.2 C10.3,13.5 11,14 11.4,14.7 M18.6,10.9 C17.5,11.5 16.8,12.5 16.6,13.7" fill="none" stroke="#484848" stroke-width="1.0" stroke-linecap="round"/></g>
</g>
<g transform="translate(732,170)" shape-rendering="geometricPrecision">
<rect width="32" height="30" fill="#fff" shape-rendering="crispEdges"/>
<path d="M18.6,5.2 L20.9,6 L22.5,3.9 L23.9,6 L25.9,5 L26.2,7.3 L28.2,8.4 L26.6,10 L27,12 L20,12 Z" fill="#f0a020"/>
<circle cx="23.2" cy="9.2" r="3.3" fill="#fff01a"/>
<g transform="translate(2.8,-1.1)"><path d="M8.5,19.7 A3.3,3.3 0 0 1 7.9,13.15 Q8.8,12.95 9.5,13.2 C10.3,11.3 12.2,8.6 14.5,7.95 C16.6,7.6 18.2,9.1 18.6,10.9 C19.8,10.6 21.6,10.6 23.2,11.5 C24.8,12.4 25.7,13.9 25.7,15.4 C25.7,17.8 23.9,19.7 21.8,19.7 Z" fill="#fff" stroke="#404040" stroke-width="1.15"/><path d="M9.5,13.2 C10.3,13.5 11,14 11.4,14.7 M18.6,10.9 C17.5,11.5 16.8,12.5 16.6,13.7" fill="none" stroke="#404040" stroke-width="1.0" stroke-linecap="round"/></g><g transform="translate(-0.8,1.7)"><path d="M8.5,19.7 A3.3,3.3 0 0 1 7.9,13.15 Q8.8,12.95 9.5,13.2 C10.3,11.3 12.2,8.6 14.5,7.95 C16.6,7.6 18.2,9.1 18.6,10.9 C19.8,10.6 21.6,10.6 23.2,11.5 C24.8,12.4 25.7,13.9 25.7,15.4 C25.7,17.8 23.9,19.7 21.8,19.7 Z" fill="#fff" stroke="#404040" stroke-width="1.15"/><path d="M9.5,13.2 C10.3,13.5 11,14 11.4,14.7 M18.6,10.9 C17.5,11.5 16.8,12.5 16.6,13.7" fill="none" stroke="#404040" stroke-width="1.0" stroke-linecap="round"/></g>
</g>
<g transform="translate(766,170)" shape-rendering="geometricPrecision">
<rect width="32" height="30" fill="#fff" shape-rendering="crispEdges"/>
<path d="M18.6,5.2 L20.9,6 L22.5,3.9 L23.9,6 L25.9,5 L26.2,7.3 L28.2,8.4 L26.6,10 L27,12 L20,12 Z" fill="#f0a020"/>
<circle cx="23.2" cy="9.2" r="3.3" fill="#fff01a"/>
<g transform="translate(2.8,-1.1)"><path d="M8.5,19.7 A3.3,3.3 0 0 1 7.9,13.15 Q8.8,12.95 9.5,13.2 C10.3,11.3 12.2,8.6 14.5,7.95 C16.6,7.6 18.2,9.1 18.6,10.9 C19.8,10.6 21.6,10.6 23.2,11.5 C24.8,12.4 25.7,13.9 25.7,15.4 C25.7,17.8 23.9,19.7 21.8,19.7 Z" fill="#fff" stroke="#404040" stroke-width="1.15"/><path d="M9.5,13.2 C10.3,13.5 11,14 11.4,14.7 M18.6,10.9 C17.5,11.5 16.8,12.5 16.6,13.7" fill="none" stroke="#404040" stroke-width="1.0" stroke-linecap="round"/></g><g transform="translate(-0.8,1.7)"><path d="M8.5,19.7 A3.3,3.3 0 0 1 7.9,13.15 Q8.8,12.95 9.5,13.2 C10.3,11.3 12.2,8.6 14.5,7.95 C16.6,7.6 18.2,9.1 18.6,10.9 C19.8,10.6 21.6,10.6 23.2,11.5 C24.8,12.4 25.7,13.9 25.7,15.4 C25.7,17.8 23.9,19.7 21.8,19.7 Z" fill="#fff" stroke="#404040" stroke-width="1.15"/><path d="M9.5,13.2 C10.3,13.5 11,14 11.4,14.7 M18.6,10.9 C17.5,11.5 16.8,12.5 16.6,13.7" fill="none" stroke="#404040" stroke-width="1.0" stroke-linecap="round"/></g>
</g>
<g transform="translate(800,170)" shape-rendering="geometricPrecision">
<rect width="32" height="30" fill="#fff" shape-rendering="crispEdges"/>
<path d="M18.6,5.2 L20.9,6 L22.5,3.9 L23.9,6 L25.9,5 L26.2,7.3 L28.2,8.4 L26.6,10 L27,12 L20,12 Z" fill="#f0a020"/>
<circle cx="23.2" cy="9.2" r="3.3" fill="#fff01a"/>
<g transform="translate(2.8,-1.1)"><path d="M8.5,19.7 A3.3,3.3 0 0 1 7.9,13.15 Q8.8,12.95 9.5,13.2 C10.3,11.3 12.2,8.6 14.5,7.95 C16.6,7.6 18.2,9.1 18.6,10.9 C19.8,10.6 21.6,10.6 23.2,11.5 C24.8,12.4 25.7,13.9 25.7,15.4 C25.7,17.8 23.9,19.7 21.8,19.7 Z" fill="#fff" stroke="#404040" stroke-width="1.15"/><path d="M9.5,13.2 C10.3,13.5 11,14 11.4,14.7 M18.6,10.9 C17.5,11.5 16.8,12.5 16.6,13.7" fill="none" stroke="#404040" stroke-width="1.0" stroke-linecap="round"/></g><g transform="translate(-0.8,1.7)"><path d="M8.5,19.7 A3.3,3.3 0 0 1 7.9,13.15 Q8.8,12.95 9.5,13.2 C10.3,11.3 12.2,8.6 14.5,7.95 C16.6,7.6 18.2,9.1 18.6,10.9 C19.8,10.6 21.6,10.6 23.2,11.5 C24.8,12.4 25.7,13.9 25.7,15.4 C25.7,17.8 23.9,19.7 21.8,19.7 Z" fill="#fff" stroke="#404040" stroke-width="1.15"/><path d="M9.5,13.2 C10.3,13.5 11,14 11.4,14.7 M18.6,10.9 C17.5,11.5 16.8,12.5 16.6,13.7" fill="none" stroke="#404040" stroke-width="1.0" stroke-linecap="round"/></g>
</g>
<g transform="translate(834,170)" shape-rendering="geometricPrecision">
<rect width="32" height="30" fill="#fff" shape-rendering="crispEdges"/>
<path d="M18.6,5.2 L20.9,6 L22.5,3.9 L23.9,6 L25.9,5 L26.2,7.3 L28.2,8.4 L26.6,10 L27,12 L20,12 Z" fill="#f0a020"/>
<circle cx="23.2" cy="9.2" r="3.3" fill="#fff01a"/>
<g transform="translate(2.8,-1.1)"><path d="M8.5,19.7 A3.3,3.3 0 0 1 7.9,13.15 Q8.8,12.95 9.5,13.2 C10.3,11.3 12.2,8.6 14.5,7.95 C16.6,7.6 18.2,9.1 18.6,10.9 C19.8,10.6 21.6,10.6 23.2,11.5 C24.8,12.4 25.7,13.9 25.7,15.4 C25.7,17.8 23.9,19.7 21.8,19.7 Z" fill="#fff" stroke="#404040" stroke-width="1.15"/><path d="M9.5,13.2 C10.3,13.5 11,14 11.4,14.7 M18.6,10.9 C17.5,11.5 16.8,12.5 16.6,13.7" fill="none" stroke="#404040" stroke-width="1.0" stroke-linecap="round"/></g><g transform="translate(-0.8,1.7)"><path d="M8.5,19.7 A3.3,3.3 0 0 1 7.9,13.15 Q8.8,12.95 9.5,13.2 C10.3,11.3 12.2,8.6 14.5,7.95 C16.6,7.6 18.2,9.1 18.6,10.9 C19.8,10.6 21.6,10.6 23.2,11.5 C24.8,12.4 25.7,13.9 25.7,15.4 C25.7,17.8 23.9,19.7 21.8,19.7 Z" fill="#fff" stroke="#404040" stroke-width="1.15"/><path d="M9.5,13.2 C10.3,13.5 11,14 11.4,14.7 M18.6,10.9 C17.5,11.5 16.8,12.5 16.6,13.7" fill="none" stroke="#404040" stroke-width="1.0" stroke-linecap="round"/></g>
</g>
<g transform="translate(868,170)" shape-rendering="geometricPrecision">
<rect width="32" height="30" fill="#fff" shape-rendering="crispEdges"/>
<g transform="translate(3.8,-1.8)"><path d="M8.5,19.7 A3.3,3.3 0 0 1 7.9,13.15 Q8.8,12.95 9.5,13.2 C10.3,11.3 12.2,8.6 14.5,7.95 C16.6,7.6 18.2,9.1 18.6,10.9 C19.8,10.6 21.6,10.6 23.2,11.5 C24.8,12.4 25.7,13.9 25.7,15.4 C25.7,17.8 23.9,19.7 21.8,19.7 Z" fill="#999" stroke="#484848" stroke-width="1.25"/><path d="M9.5,13.2 C10.3,13.5 11,14 11.4,14.7 M18.6,10.9 C17.5,11.5 16.8,12.5 16.6,13.7" fill="none" stroke="#484848" stroke-width="1.0" stroke-linecap="round"/></g><g transform="translate(0.3,0.6)"><path d="M8.5,19.7 A3.3,3.3 0 0 1 7.9,13.15 Q8.8,12.95 9.5,13.2 C10.3,11.3 12.2,8.6 14.5,7.95 C16.6,7.6 18.2,9.1 18.6,10.9 C19.8,10.6 21.6,10.6 23.2,11.5 C24.8,12.4 25.7,13.9 25.7,15.4 C25.7,17.8 23.9,19.7 21.8,19.7 Z" fill="#999" stroke="#484848" stroke-width="1.25"/><path d="M9.5,13.2 C10.3,13.5 11,14 11.4,14.7 M18.6,10.9 C17.5,11.5 16.8,12.5 16.6,13.7" fill="none" stroke="#484848" stroke-width="1.0" stroke-linecap="round"/></g>
</g>
<g transform="translate(902,170)" shape-rendering="geometricPrecision">
<rect width="32" height="30" fill="#fff" shape-rendering="crispEdges"/>
<g transform="translate(3.8,-1.8)"><path d="M8.5,19.7 A3.3,3.3 0 0 1 7.9,13.15 Q8.8,12.95 9.5,13.2 C10.3,11.3 12.2,8.6 14.5,7.95 C16.6,7.6 18.2,9.1 18.6,10.9 C19.8,10.6 21.6,10.6 23.2,11.5 C24.8,12.4 25.7,13.9 25.7,15.4 C25.7,17.8 23.9,19.7 21.8,19.7 Z" fill="#999" stroke="#484848" stroke-width="1.25"/><path d="M9.5,13.2 C10.3,13.5 11,14 11.4,14.7 M18.6,10.9 C17.5,11.5 16.8,12.5 16.6,13.7" fill="none" stroke="#484848" stroke-width="1.0" stroke-linecap="round"/></g><g transform="translate(0.3,0.6)"><path d="M8.5,19.7 A3.3,3.3 0 0 1 7.9,13.15 Q8.8,12.95 9.5,13.2 C10.3,11.3 12.2,8.6 14.5,7.95 C16.6,7.6 18.2,9.1 18.6,10.9 C19.8,10.6 21.6,10.6 23.2,11.5 C24.8,12.4 25.7,13.9 25.7,15.4 C25.7,17.8 23.9,19.7 21.8,19.7 Z" fill="#999" stroke="#484848" stroke-width="1.25"/><path d="M9.5,13.2 C10.3,13.5 11,14 11.4,14.7 M18.6,10.9 C17.5,11.5 16.8,12.5 16.6,13.7" fill="none" stroke="#484848" stroke-width="1.0" stroke-linecap="round"/></g>
</g>
<path d="M134.6,408.1 L141.4,393.5 M143.4,401.5 L141.4,393.5 L134.0,397.1" fill="none" stroke="#000" stroke-width="1.9" stroke-linejoin="round" shape-rendering="geometricPrecision"/>
<path d="M169.6,408.2 L174.4,393.4 M177.4,401.1 L174.4,393.4 L167.4,397.9" fill="none" stroke="#000" stroke-width="1.9" stroke-linejoin="round" shape-rendering="geometricPrecision"/>
<path d="M203.6,408.1 L208.4,393.5 M211.4,401.2 L208.4,393.5 L201.4,398.0" fill="none" stroke="#000" stroke-width="1.9" stroke-linejoin="round" shape-rendering="geometricPrecision"/>
<path d="M237.0,407.9 L243.0,393.7 M245.3,401.7 L243.0,393.7 L235.7,397.6" fill="none" stroke="#000" stroke-width="1.9" stroke-linejoin="round" shape-rendering="geometricPrecision"/>
<path d="M271.5,408.0 L276.5,393.6 M279.3,401.4 L276.5,393.6 L269.4,398.0" fill="none" stroke="#000" stroke-width="1.9" stroke-linejoin="round" shape-rendering="geometricPrecision"/>
<path d="M305.4,408.0 L310.6,393.6 M313.3,401.4 L310.6,393.6 L303.5,397.8" fill="none" stroke="#000" stroke-width="1.9" stroke-linejoin="round" shape-rendering="geometricPrecision"/>
<path d="M338.3,407.5 L345.7,394.1 M347.2,402.2 L345.7,394.1 L338.0,397.2" fill="none" stroke="#000" stroke-width="1.9" stroke-linejoin="round" shape-rendering="geometricPrecision"/>
<path d="M372.0,407.4 L380.0,394.2 M381.1,402.4 L380.0,394.2 L372.2,397.0" fill="none" stroke="#000" stroke-width="1.9" stroke-linejoin="round" shape-rendering="geometricPrecision"/>
<path d="M407.1,407.9 L412.9,393.7 M415.3,401.6 L412.9,393.7 L405.6,397.7" fill="none" stroke="#000" stroke-width="1.9" stroke-linejoin="round" shape-rendering="geometricPrecision"/>
<path d="M441.1,408.0 L446.9,393.6 M449.3,401.5 L446.9,393.6 L439.7,397.6" fill="none" stroke="#000" stroke-width="1.9" stroke-linejoin="round" shape-rendering="geometricPrecision"/>
<path d="M474.3,407.7 L481.7,393.9 M483.2,402.1 L481.7,393.9 L474.0,397.2" fill="none" stroke="#000" stroke-width="1.9" stroke-linejoin="round" shape-rendering="geometricPrecision"/>
<path d="M509.4,408.0 L514.6,393.6 M517.3,401.4 L514.6,393.6 L507.5,397.8" fill="none" stroke="#000" stroke-width="1.9" stroke-linejoin="round" shape-rendering="geometricPrecision"/>
<path d="M543.3,407.9 L548.7,393.7 M551.3,401.6 L548.7,393.7 L541.5,397.9" fill="none" stroke="#000" stroke-width="1.9" stroke-linejoin="round" shape-rendering="geometricPrecision"/>
<path d="M577.3,407.9 L582.7,393.7 M585.3,401.6 L582.7,393.7 L575.5,397.9" fill="none" stroke="#000" stroke-width="1.9" stroke-linejoin="round" shape-rendering="geometricPrecision"/>
<path d="M611.9,406.0 L616.1,395.6 M618.5,403.5 L616.1,395.6 L608.8,399.6" fill="none" stroke="#000" stroke-width="1.9" stroke-linejoin="round" shape-rendering="geometricPrecision"/>
<path d="M644.7,407.3 L651.3,394.3 M653.1,402.4 L651.3,394.3 L643.8,397.6" fill="none" stroke="#000" stroke-width="1.9" stroke-linejoin="round" shape-rendering="geometricPrecision"/>
<path d="M676.7,408.9 L687.3,392.7 M688.2,400.9 L687.3,392.7 L679.4,395.2" fill="none" stroke="#000" stroke-width="1.9" stroke-linejoin="round" shape-rendering="geometricPrecision"/>
<path d="M710.6,408.8 L721.4,392.8 M722.1,401.0 L721.4,392.8 L713.5,395.2" fill="none" stroke="#000" stroke-width="1.9" stroke-linejoin="round" shape-rendering="geometricPrecision"/>
<path d="M745.4,409.4 L754.6,392.2 M756.1,400.4 L754.6,392.2 L746.9,395.5" fill="none" stroke="#000" stroke-width="1.9" stroke-linejoin="round" shape-rendering="geometricPrecision"/>
<path d="M779.7,409.5 L788.3,392.1 M790.1,400.2 L788.3,392.1 L780.7,395.6" fill="none" stroke="#000" stroke-width="1.9" stroke-linejoin="round" shape-rendering="geometricPrecision"/>
<path d="M813.3,409.3 L822.7,392.3 M824.1,400.5 L822.7,392.3 L815.0,395.4" fill="none" stroke="#000" stroke-width="1.9" stroke-linejoin="round" shape-rendering="geometricPrecision"/>
<path d="M848.2,409.7 L855.8,391.9 M858.1,399.8 L855.8,391.9 L848.5,395.8" fill="none" stroke="#000" stroke-width="1.9" stroke-linejoin="round" shape-rendering="geometricPrecision"/>
<path d="M882.4,409.8 L889.6,391.8 M892.1,399.7 L889.6,391.8 L882.4,395.8" fill="none" stroke="#000" stroke-width="1.9" stroke-linejoin="round" shape-rendering="geometricPrecision"/>
<path d="M916.7,409.9 L923.3,391.7 M926.0,399.5 L923.3,391.7 L916.2,396.0" fill="none" stroke="#000" stroke-width="1.9" stroke-linejoin="round" shape-rendering="geometricPrecision"/>
<text transform="translate(137,98) scale(1,1.05)" font-size="12" font-weight="bold" text-anchor="middle" fill="#000">98</text>
<text x="137" y="161" font-size="14" font-weight="bold" text-anchor="middle" fill="#000">15</text>
<text transform="translate(137,267) scale(1,1.05)" font-size="12" font-weight="bold" text-anchor="middle" fill="#000">0</text>
<text transform="translate(137,355.5) scale(1,1.05)" font-size="12" font-weight="bold" text-anchor="middle" fill="#000">14</text>
<text transform="translate(137,342.5) scale(1,1.05)" font-size="12" text-anchor="middle" fill="#000">20</text>
<text transform="translate(137.5,383.5) scale(1,1.13)" font-size="10" font-weight="bold" text-anchor="middle" fill="#000" letter-spacing="0.25">SSW</text>
<text transform="translate(137,435.5) scale(1,1.13)" font-size="10" font-weight="bold" text-anchor="middle" fill="#000" letter-spacing="0.3">1012</text>
<text transform="translate(137,500) scale(1,1.05)" font-size="12" font-weight="bold" text-anchor="middle" fill="#000">6</text>
<text x="137" y="546" font-size="14" font-weight="bold" text-anchor="middle" fill="#000">15</text>
<text transform="translate(137,576.5) scale(1,1.05)" font-size="12" font-weight="bold" text-anchor="middle" fill="#000">79</text>
<text transform="translate(137,623.5) scale(1,1.05)" font-size="12" font-weight="bold" text-anchor="middle" fill="#000">3</text>
<text transform="translate(171,98) scale(1,1.05)" font-size="12" font-weight="bold" text-anchor="middle" fill="#000">98</text>
<text x="171" y="161" font-size="14" font-weight="bold" text-anchor="middle" fill="#000">16</text>
<text transform="translate(171,267) scale(1,1.05)" font-size="12" font-weight="bold" text-anchor="middle" fill="#000">0</text>
<text transform="translate(171,356.5) scale(1,1.05)" font-size="12" font-weight="bold" text-anchor="middle" fill="#000">13</text>
<text transform="translate(171,343.5) scale(1,1.05)" font-size="12" text-anchor="middle" fill="#000">17</text>
<text transform="translate(171.5,383.5) scale(1,1.13)" font-size="10" font-weight="bold" text-anchor="middle" fill="#000" letter-spacing="0.25">SSW</text>
<text transform="translate(171,435.5) scale(1,1.13)" font-size="10" font-weight="bold" text-anchor="middle" fill="#000" letter-spacing="0.3">1012</text>
<text transform="translate(171,501) scale(1,1.05)" font-size="12" font-weight="bold" text-anchor="middle" fill="#000">5</text>
<text x="171" y="546" font-size="14" font-weight="bold" text-anchor="middle" fill="#000">16</text>
<text transform="translate(171,576.5) scale(1,1.05)" font-size="12" font-weight="bold" text-anchor="middle" fill="#000">81</text>
<text transform="translate(171,624.5) scale(1,1.05)" font-size="12" font-weight="bold" text-anchor="middle" fill="#000">3.0</text>
<text transform="translate(205,98) scale(1,1.05)" font-size="12" font-weight="bold" text-anchor="middle" fill="#000">98</text>
<text x="205" y="161" font-size="14" font-weight="bold" text-anchor="middle" fill="#000">17</text>
<text transform="translate(205,267) scale(1,1.05)" font-size="12" font-weight="bold" text-anchor="middle" fill="#000">0</text>
<text transform="translate(205,356.5) scale(1,1.05)" font-size="12" font-weight="bold" text-anchor="middle" fill="#000">12</text>
<text transform="translate(205,343.5) scale(1,1.05)" font-size="12" text-anchor="middle" fill="#000">15</text>
<text transform="translate(205.5,383.5) scale(1,1.13)" font-size="10" font-weight="bold" text-anchor="middle" fill="#000" letter-spacing="0.25">SSW</text>
<text transform="translate(205,435.5) scale(1,1.13)" font-size="10" font-weight="bold" text-anchor="middle" fill="#000" letter-spacing="0.3">1012</text>
<text transform="translate(205,500) scale(1,1.05)" font-size="12" font-weight="bold" text-anchor="middle" fill="#000">6</text>
<text x="205" y="546" font-size="14" font-weight="bold" text-anchor="middle" fill="#000">17</text>
<text transform="translate(205,576.5) scale(1,1.05)" font-size="12" font-weight="bold" text-anchor="middle" fill="#000">80</text>
<text transform="translate(205,623.5) scale(1,1.05)" font-size="12" font-weight="bold" text-anchor="middle" fill="#000">3</text>
<text transform="translate(239,98) scale(1,1.05)" font-size="12" font-weight="bold" text-anchor="middle" fill="#000">98</text>
<text x="239" y="161" font-size="14" font-weight="bold" text-anchor="middle" fill="#000">18</text>
<text transform="translate(239,267) scale(1,1.05)" font-size="12" font-weight="bold" text-anchor="middle" fill="#000">0</text>
<text transform="translate(239,357.5) scale(1,1.05)" font-size="12" font-weight="bold" text-anchor="middle" fill="#000">12</text>
<text transform="translate(239,344.5) scale(1,1.05)" font-size="12" text-anchor="middle" fill="#000">14</text>
<text transform="translate(239.5,383.5) scale(1,1.13)" font-size="10" font-weight="bold" text-anchor="middle" fill="#000" letter-spacing="0.25">SSW</text>
<text transform="translate(239,435.5) scale(1,1.13)" font-size="10" font-weight="bold" text-anchor="middle" fill="#000" letter-spacing="0.3">1012</text>
<text transform="translate(239,500) scale(1,1.05)" font-size="12" font-weight="bold" text-anchor="middle" fill="#000">6</text>
<text x="239" y="546" font-size="14" font-weight="bold" text-anchor="middle" fill="#000">18</text>
<text transform="translate(239,576.5) scale(1,1.05)" font-size="12" font-weight="bold" text-anchor="middle" fill="#000">80</text>
<text transform="translate(239,623.5) scale(1,1.05)" font-size="12" font-weight="bold" text-anchor="middle" fill="#000">3</text>
<text transform="translate(273,97) scale(1,1.05)" font-size="12" font-weight="bold" text-anchor="middle" fill="#000">99</text>
<text x="273" y="161" font-size="14" font-weight="bold" text-anchor="middle" fill="#000">19</text>
<text transform="translate(273,267) scale(1,1.05)" font-size="12" font-weight="bold" text-anchor="middle" fill="#000">0</text>
<text transform="translate(273,357.5) scale(1,1.05)" font-size="12" font-weight="bold" text-anchor="middle" fill="#000">11</text>
<text transform="translate(273,344.5) scale(1,1.05)" font-size="12" text-anchor="middle" fill="#000">14</text>
<text transform="translate(273.5,383.5) scale(1,1.13)" font-size="10" font-weight="bold" text-anchor="middle" fill="#000" letter-spacing="0.25">SSW</text>
<text transform="translate(273,435.5) scale(1,1.13)" font-size="10" font-weight="bold" text-anchor="middle" fill="#000" letter-spacing="0.3">1013</text>
<text transform="translate(273,499) scale(1,1.05)" font-size="12" font-weight="bold" text-anchor="middle" fill="#000">6</text>
<text x="273" y="546" font-size="14" font-weight="bold" text-anchor="middle" fill="#000">19</text>
<text transform="translate(273,576.5) scale(1,1.05)" font-size="12" font-weight="bold" text-anchor="middle" fill="#000">80</text>
<text transform="translate(273,623.5) scale(1,1.05)" font-size="12" font-weight="bold" text-anchor="middle" fill="#000">3</text>
<text transform="translate(307,97) scale(1,1.05)" font-size="12" font-weight="bold" text-anchor="middle" fill="#000">100</text>
<text x="307" y="161" font-size="14" font-weight="bold" text-anchor="middle" fill="#000">20</text>
<text transform="translate(307,267) scale(1,1.05)" font-size="12" font-weight="bold" text-anchor="middle" fill="#000">0</text>
<text transform="translate(307,356.5) scale(1,1.05)" font-size="12" font-weight="bold" text-anchor="middle" fill="#000">12</text>
<text transform="translate(307,343.5) scale(1,1.05)" font-size="12" text-anchor="middle" fill="#000">14</text>
<text transform="translate(307.5,383.5) scale(1,1.13)" font-size="10" font-weight="bold" text-anchor="middle" fill="#000" letter-spacing="0.25">SSW</text>
<text transform="translate(307,435.5) scale(1,1.13)" font-size="10" font-weight="bold" text-anchor="middle" fill="#000" letter-spacing="0.3">1014</text>
<text transform="translate(307,498) scale(1,1.05)" font-size="12" font-weight="bold" text-anchor="middle" fill="#000">6</text>
<text x="307" y="546" font-size="14" font-weight="bold" text-anchor="middle" fill="#000">20</text>
<text transform="translate(307,576.5) scale(1,1.05)" font-size="12" font-weight="bold" text-anchor="middle" fill="#000">81</text>
<text transform="translate(307,623.5) scale(1,1.05)" font-size="12" font-weight="bold" text-anchor="middle" fill="#000">3</text>
<text transform="translate(341,109) scale(1,1.05)" font-size="12" font-weight="bold" text-anchor="middle" fill="#000">69</text>
<text x="341" y="161" font-size="14" font-weight="bold" text-anchor="middle" fill="#000">21</text>
<text transform="translate(341,267) scale(1,1.05)" font-size="12" font-weight="bold" text-anchor="middle" fill="#000">0</text>
<text transform="translate(341,356.5) scale(1,1.05)" font-size="12" font-weight="bold" text-anchor="middle" fill="#000">12</text>
<text transform="translate(341,343.5) scale(1,1.05)" font-size="12" text-anchor="middle" fill="#000">16</text>
<text transform="translate(341.5,383.5) scale(1,1.13)" font-size="10" font-weight="bold" text-anchor="middle" fill="#000" letter-spacing="0.25">SSW</text>
<text transform="translate(341,435.5) scale(1,1.13)" font-size="10" font-weight="bold" text-anchor="middle" fill="#000" letter-spacing="0.3">1014</text>
<text transform="translate(341,498) scale(1,1.05)" font-size="12" font-weight="bold" text-anchor="middle" fill="#000">6</text>
<text x="341" y="546" font-size="14" font-weight="bold" text-anchor="middle" fill="#000">21</text>
<text transform="translate(341,574.5) scale(1,1.05)" font-size="12" font-weight="bold" text-anchor="middle" fill="#000">83</text>
<text transform="translate(341,624.5) scale(1,1.05)" font-size="12" font-weight="bold" text-anchor="middle" fill="#000">2.7</text>
<text transform="translate(375,116) scale(1,1.05)" font-size="12" font-weight="bold" text-anchor="middle" fill="#000">52</text>
<text x="375" y="161" font-size="14" font-weight="bold" text-anchor="middle" fill="#000">22</text>
<text transform="translate(375,267) scale(1,1.05)" font-size="12" font-weight="bold" text-anchor="middle" fill="#000">0</text>
<text transform="translate(375,356.5) scale(1,1.05)" font-size="12" font-weight="bold" text-anchor="middle" fill="#000">12</text>
<text transform="translate(375,343.5) scale(1,1.05)" font-size="12" text-anchor="middle" fill="#000">18</text>
<text transform="translate(375.5,383.5) scale(1,1.13)" font-size="10" font-weight="bold" text-anchor="middle" fill="#000" letter-spacing="0.25">SSW</text>
<text transform="translate(375,434.5) scale(1,1.13)" font-size="10" font-weight="bold" text-anchor="middle" fill="#000" letter-spacing="0.3">1015</text>
<text transform="translate(375,499) scale(1,1.05)" font-size="12" font-weight="bold" text-anchor="middle" fill="#000">6</text>
<text x="375" y="546" font-size="14" font-weight="bold" text-anchor="middle" fill="#000">22</text>
<text transform="translate(375,574.5) scale(1,1.05)" font-size="12" font-weight="bold" text-anchor="middle" fill="#000">84</text>
<text transform="translate(375,624.5) scale(1,1.05)" font-size="12" font-weight="bold" text-anchor="middle" fill="#000">2.6</text>
<text transform="translate(409,120) scale(1,1.05)" font-size="12" font-weight="bold" text-anchor="middle" fill="#000">43</text>
<text x="409" y="161" font-size="14" font-weight="bold" text-anchor="middle" fill="#000">23</text>
<text transform="translate(409,267) scale(1,1.05)" font-size="12" font-weight="bold" text-anchor="middle" fill="#000">0</text>
<text transform="translate(409,356.5) scale(1,1.05)" font-size="12" font-weight="bold" text-anchor="middle" fill="#000">12</text>
<text transform="translate(409,343.5) scale(1,1.05)" font-size="12" text-anchor="middle" fill="#000">21</text>
<text transform="translate(409.5,383.5) scale(1,1.13)" font-size="10" font-weight="bold" text-anchor="middle" fill="#000" letter-spacing="0.25">SSW</text>
<text transform="translate(409,434.5) scale(1,1.13)" font-size="10" font-weight="bold" text-anchor="middle" fill="#000" letter-spacing="0.3">1015</text>
<text transform="translate(409,499) scale(1,1.05)" font-size="12" font-weight="bold" text-anchor="middle" fill="#000">6</text>
<text x="409" y="546" font-size="14" font-weight="bold" text-anchor="middle" fill="#000">23</text>
<text transform="translate(409,574.5) scale(1,1.05)" font-size="12" font-weight="bold" text-anchor="middle" fill="#000">83</text>
<text transform="translate(409,624.5) scale(1,1.05)" font-size="12" font-weight="bold" text-anchor="middle" fill="#000">2.8</text>
<text transform="translate(443,123) scale(1,1.05)" font-size="12" font-weight="bold" text-anchor="middle" fill="#000">36</text>
<text x="443" y="161" font-size="14" font-weight="bold" text-anchor="middle" fill="#000">00</text>
<text transform="translate(443,267) scale(1,1.05)" font-size="12" font-weight="bold" text-anchor="middle" fill="#000">0</text>
<text transform="translate(443,356.5) scale(1,1.05)" font-size="12" font-weight="bold" text-anchor="middle" fill="#000">13</text>
<text transform="translate(443,343.5) scale(1,1.05)" font-size="12" text-anchor="middle" fill="#000">23</text>
<text transform="translate(443.5,383.5) scale(1,1.13)" font-size="10" font-weight="bold" text-anchor="middle" fill="#000" letter-spacing="0.25">SSW</text>
<text transform="translate(443,434.5) scale(1,1.13)" font-size="10" font-weight="bold" text-anchor="middle" fill="#000" letter-spacing="0.3">1015</text>
<text transform="translate(443,498) scale(1,1.05)" font-size="12" font-weight="bold" text-anchor="middle" fill="#000">6</text>
<text x="443" y="546" font-size="14" font-weight="bold" text-anchor="middle" fill="#000">00</text>
<text transform="translate(443,577.5) scale(1,1.05)" font-size="12" font-weight="bold" text-anchor="middle" fill="#000">78</text>
<text transform="translate(443,622.5) scale(1,1.05)" font-size="12" font-weight="bold" text-anchor="middle" fill="#000">4</text>
<text transform="translate(477,137) scale(1,1.05)" font-size="12" font-weight="bold" text-anchor="middle" fill="#000">0</text>
<text x="477" y="161" font-size="14" font-weight="bold" text-anchor="middle" fill="#000">01</text>
<text transform="translate(477,267) scale(1,1.05)" font-size="12" font-weight="bold" text-anchor="middle" fill="#000">0</text>
<text transform="translate(477,355.5) scale(1,1.05)" font-size="12" font-weight="bold" text-anchor="middle" fill="#000">13</text>
<text transform="translate(477,342.5) scale(1,1.05)" font-size="12" text-anchor="middle" fill="#000">21</text>
<text transform="translate(477.5,383.5) scale(1,1.13)" font-size="10" font-weight="bold" text-anchor="middle" fill="#000" letter-spacing="0.25">SSW</text>
<text transform="translate(477,434.5) scale(1,1.13)" font-size="10" font-weight="bold" text-anchor="middle" fill="#000" letter-spacing="0.3">1015</text>
<text transform="translate(477,498) scale(1,1.05)" font-size="12" font-weight="bold" text-anchor="middle" fill="#000">6</text>
<text x="477" y="546" font-size="14" font-weight="bold" text-anchor="middle" fill="#000">01</text>
<text transform="translate(477,578.5) scale(1,1.05)" font-size="12" font-weight="bold" text-anchor="middle" fill="#000">75</text>
<text transform="translate(477,621.5) scale(1,1.05)" font-size="12" font-weight="bold" text-anchor="middle" fill="#000">4</text>
<text transform="translate(511,137) scale(1,1.05)" font-size="12" font-weight="bold" text-anchor="middle" fill="#000">0</text>
<text x="511" y="161" font-size="14" font-weight="bold" text-anchor="middle" fill="#000">02</text>
<text transform="translate(511,267) scale(1,1.05)" font-size="12" font-weight="bold" text-anchor="middle" fill="#000">0</text>
<text transform="translate(511,356.5) scale(1,1.05)" font-size="12" font-weight="bold" text-anchor="middle" fill="#000">12</text>
<text transform="translate(511,343.5) scale(1,1.05)" font-size="12" text-anchor="middle" fill="#000">16</text>
<text transform="translate(511.5,383.5) scale(1,1.13)" font-size="10" font-weight="bold" text-anchor="middle" fill="#000" letter-spacing="0.25">SSW</text>
<text transform="translate(511,434.5) scale(1,1.13)" font-size="10" font-weight="bold" text-anchor="middle" fill="#000" letter-spacing="0.3">1015</text>
<text transform="translate(511,499) scale(1,1.05)" font-size="12" font-weight="bold" text-anchor="middle" fill="#000">6</text>
<text x="511" y="546" font-size="14" font-weight="bold" text-anchor="middle" fill="#000">02</text>
<text transform="translate(511,577.5) scale(1,1.05)" font-size="12" font-weight="bold" text-anchor="middle" fill="#000">78</text>
<text transform="translate(511,622.5) scale(1,1.05)" font-size="12" font-weight="bold" text-anchor="middle" fill="#000">4</text>
<text transform="translate(545,136) scale(1,1.05)" font-size="12" font-weight="bold" text-anchor="middle" fill="#000">3</text>
<text x="545" y="161" font-size="14" font-weight="bold" text-anchor="middle" fill="#000">03</text>
<text transform="translate(545,267) scale(1,1.05)" font-size="12" font-weight="bold" text-anchor="middle" fill="#000">0</text>
<text transform="translate(545,357.5) scale(1,1.05)" font-size="12" font-weight="bold" text-anchor="middle" fill="#000">11</text>
<text transform="translate(545,344.5) scale(1,1.05)" font-size="12" text-anchor="middle" fill="#000">14</text>
<text transform="translate(545.5,383.5) scale(1,1.13)" font-size="10" font-weight="bold" text-anchor="middle" fill="#000" letter-spacing="0.25">SSW</text>
<text transform="translate(545,434.5) scale(1,1.13)" font-size="10" font-weight="bold" text-anchor="middle" fill="#000" letter-spacing="0.3">1015</text>
<text transform="translate(545,500) scale(1,1.05)" font-size="12" font-weight="bold" text-anchor="middle" fill="#000">6</text>
<text x="545" y="546" font-size="14" font-weight="bold" text-anchor="middle" fill="#000">03</text>
<text transform="translate(545,576.5) scale(1,1.05)" font-size="12" font-weight="bold" text-anchor="middle" fill="#000">81</text>
<text transform="translate(545,623.5) scale(1,1.05)" font-size="12" font-weight="bold" text-anchor="middle" fill="#000">3</text>
<text transform="translate(579,135) scale(1,1.05)" font-size="12" font-weight="bold" text-anchor="middle" fill="#000">5</text>
<text x="579" y="161" font-size="14" font-weight="bold" text-anchor="middle" fill="#000">04</text>
<text transform="translate(579,267) scale(1,1.05)" font-size="12" font-weight="bold" text-anchor="middle" fill="#000">0</text>
<text transform="translate(579,357.5) scale(1,1.05)" font-size="12" font-weight="bold" text-anchor="middle" fill="#000">11</text>
<text transform="translate(579,344.5) scale(1,1.05)" font-size="12" text-anchor="middle" fill="#000">14</text>
<text transform="translate(579.5,383.5) scale(1,1.13)" font-size="10" font-weight="bold" text-anchor="middle" fill="#000" letter-spacing="0.25">SSW</text>
<text transform="translate(579,434.5) scale(1,1.13)" font-size="10" font-weight="bold" text-anchor="middle" fill="#000" letter-spacing="0.3">1016</text>
<text transform="translate(579,501) scale(1,1.05)" font-size="12" font-weight="bold" text-anchor="middle" fill="#000">5</text>
<text x="579" y="546" font-size="14" font-weight="bold" text-anchor="middle" fill="#000">04</text>
<text transform="translate(579,576.5) scale(1,1.05)" font-size="12" font-weight="bold" text-anchor="middle" fill="#000">80</text>
<text transform="translate(579,623.5) scale(1,1.05)" font-size="12" font-weight="bold" text-anchor="middle" fill="#000">3</text>
<text transform="translate(613,135) scale(1,1.05)" font-size="12" font-weight="bold" text-anchor="middle" fill="#000">5</text>
<text x="613" y="161" font-size="14" font-weight="bold" text-anchor="middle" fill="#000">05</text>
<text transform="translate(613,267) scale(1,1.05)" font-size="12" font-weight="bold" text-anchor="middle" fill="#000">0</text>
<text transform="translate(613,359.5) scale(1,1.05)" font-size="12" font-weight="bold" text-anchor="middle" fill="#000">9</text>
<text transform="translate(613,346.5) scale(1,1.05)" font-size="12" text-anchor="middle" fill="#000">17</text>
<text transform="translate(613.5,383.5) scale(1,1.13)" font-size="10" font-weight="bold" text-anchor="middle" fill="#000" letter-spacing="0.25">SSW</text>
<text transform="translate(613,434.5) scale(1,1.13)" font-size="10" font-weight="bold" text-anchor="middle" fill="#000" letter-spacing="0.3">1016</text>
<text transform="translate(613,501) scale(1,1.05)" font-size="12" font-weight="bold" text-anchor="middle" fill="#000">5</text>
<text x="613" y="546" font-size="14" font-weight="bold" text-anchor="middle" fill="#000">05</text>
<text transform="translate(613,575.5) scale(1,1.05)" font-size="12" font-weight="bold" text-anchor="middle" fill="#000">82</text>
<text transform="translate(613,624.5) scale(1,1.05)" font-size="12" font-weight="bold" text-anchor="middle" fill="#000">2.9</text>
<text transform="translate(647,135) scale(1,1.05)" font-size="12" font-weight="bold" text-anchor="middle" fill="#000">5</text>
<text x="647" y="161" font-size="14" font-weight="bold" text-anchor="middle" fill="#000">06</text>
<text transform="translate(647,267) scale(1,1.05)" font-size="12" font-weight="bold" text-anchor="middle" fill="#000">0</text>
<text transform="translate(647,358.5) scale(1,1.05)" font-size="12" font-weight="bold" text-anchor="middle" fill="#000">10</text>
<text transform="translate(647,345.5) scale(1,1.05)" font-size="12" text-anchor="middle" fill="#000">22</text>
<text transform="translate(647.5,383.5) scale(1,1.13)" font-size="10" font-weight="bold" text-anchor="middle" fill="#000" letter-spacing="0.25">SSW</text>
<text transform="translate(647,434.5) scale(1,1.13)" font-size="10" font-weight="bold" text-anchor="middle" fill="#000" letter-spacing="0.3">1015</text>
<text transform="translate(647,501) scale(1,1.05)" font-size="12" font-weight="bold" text-anchor="middle" fill="#000">5</text>
<text x="647" y="546" font-size="14" font-weight="bold" text-anchor="middle" fill="#000">06</text>
<text transform="translate(647,575.5) scale(1,1.05)" font-size="12" font-weight="bold" text-anchor="middle" fill="#000">82</text>
<text transform="translate(647,624.5) scale(1,1.05)" font-size="12" font-weight="bold" text-anchor="middle" fill="#000">3</text>
<text transform="translate(681,101) scale(1,1.05)" font-size="12" font-weight="bold" text-anchor="middle" fill="#000">91</text>
<text x="681" y="161" font-size="14" font-weight="bold" text-anchor="middle" fill="#000">07</text>
<text transform="translate(681,267) scale(1,1.05)" font-size="12" font-weight="bold" text-anchor="middle" fill="#000">0</text>
<text transform="translate(681,353.5) scale(1,1.05)" font-size="12" font-weight="bold" text-anchor="middle" fill="#000">16</text>
<text transform="translate(681,340.5) scale(1,1.05)" font-size="12" text-anchor="middle" fill="#000">30</text>
<text transform="translate(681.5,383.5) scale(1,1.13)" font-size="10" font-weight="bold" text-anchor="middle" fill="#000" letter-spacing="0.25">SSW</text>
<text transform="translate(681,434.5) scale(1,1.13)" font-size="10" font-weight="bold" text-anchor="middle" fill="#000" letter-spacing="0.3">1015</text>
<text transform="translate(681,499) scale(1,1.05)" font-size="12" font-weight="bold" text-anchor="middle" fill="#000">6</text>
<text x="681" y="546" font-size="14" font-weight="bold" text-anchor="middle" fill="#000">07</text>
<text transform="translate(681,576.5) scale(1,1.05)" font-size="12" font-weight="bold" text-anchor="middle" fill="#000">79</text>
<text transform="translate(681,623.5) scale(1,1.05)" font-size="12" font-weight="bold" text-anchor="middle" fill="#000">3</text>
<text transform="translate(715,103) scale(1,1.05)" font-size="12" font-weight="bold" text-anchor="middle" fill="#000">86</text>
<text x="715" y="161" font-size="14" font-weight="bold" text-anchor="middle" fill="#000">08</text>
<text transform="translate(715,267) scale(1,1.05)" font-size="12" font-weight="bold" text-anchor="middle" fill="#000">0</text>
<text transform="translate(715,351.5) scale(1,1.05)" font-size="12" font-weight="bold" text-anchor="middle" fill="#000">19</text>
<text transform="translate(715,338.5) scale(1,1.05)" font-size="12" text-anchor="middle" fill="#000">32</text>
<text transform="translate(715.5,383.5) scale(1,1.13)" font-size="10" font-weight="bold" text-anchor="middle" fill="#000" letter-spacing="0.25">SSW</text>
<text transform="translate(715,434.5) scale(1,1.13)" font-size="10" font-weight="bold" text-anchor="middle" fill="#000" letter-spacing="0.3">1015</text>
<text transform="translate(715,499) scale(1,1.05)" font-size="12" font-weight="bold" text-anchor="middle" fill="#000">6</text>
<text x="715" y="546" font-size="14" font-weight="bold" text-anchor="middle" fill="#000">08</text>
<text transform="translate(715,576.5) scale(1,1.05)" font-size="12" font-weight="bold" text-anchor="middle" fill="#000">80</text>
<text transform="translate(715,623.5) scale(1,1.05)" font-size="12" font-weight="bold" text-anchor="middle" fill="#000">3</text>
<text transform="translate(749,112) scale(1,1.05)" font-size="12" font-weight="bold" text-anchor="middle" fill="#000">63</text>
<text x="749" y="161" font-size="14" font-weight="bold" text-anchor="middle" fill="#000">09</text>
<text transform="translate(749,267) scale(1,1.05)" font-size="12" font-weight="bold" text-anchor="middle" fill="#000">0</text>
<text transform="translate(749,351.5) scale(1,1.05)" font-size="12" font-weight="bold" text-anchor="middle" fill="#000">19</text>
<text transform="translate(749,338.5) scale(1,1.05)" font-size="12" text-anchor="middle" fill="#000">32</text>
<text transform="translate(749.5,383.5) scale(1,1.13)" font-size="10" font-weight="bold" text-anchor="middle" fill="#000" letter-spacing="0.25">SSW</text>
<text transform="translate(749,435.5) scale(1,1.13)" font-size="10" font-weight="bold" text-anchor="middle" fill="#000" letter-spacing="0.3">1014</text>
<text transform="translate(749,499) scale(1,1.05)" font-size="12" font-weight="bold" text-anchor="middle" fill="#000">6</text>
<text x="749" y="546" font-size="14" font-weight="bold" text-anchor="middle" fill="#000">09</text>
<text transform="translate(749,576.5) scale(1,1.05)" font-size="12" font-weight="bold" text-anchor="middle" fill="#000">81</text>
<text transform="translate(749,624.5) scale(1,1.05)" font-size="12" font-weight="bold" text-anchor="middle" fill="#000">2.9</text>
<text transform="translate(783,109) scale(1,1.05)" font-size="12" font-weight="bold" text-anchor="middle" fill="#000">69</text>
<text x="783" y="161" font-size="14" font-weight="bold" text-anchor="middle" fill="#000">10</text>
<text transform="translate(783,267) scale(1,1.05)" font-size="12" font-weight="bold" text-anchor="middle" fill="#000">0</text>
<text transform="translate(783,348.5) scale(1,1.05)" font-size="12" font-weight="bold" text-anchor="middle" fill="#000">22</text>
<text transform="translate(783,335.5) scale(1,1.05)" font-size="12" text-anchor="middle" fill="#000">37</text>
<text transform="translate(783.5,383.5) scale(1,1.13)" font-size="10" font-weight="bold" text-anchor="middle" fill="#000" letter-spacing="0.25">SSW</text>
<text transform="translate(783,435.5) scale(1,1.13)" font-size="10" font-weight="bold" text-anchor="middle" fill="#000" letter-spacing="0.3">1013</text>
<text transform="translate(783,497) scale(1,1.05)" font-size="12" font-weight="bold" text-anchor="middle" fill="#000">7</text>
<text x="783" y="546" font-size="14" font-weight="bold" text-anchor="middle" fill="#000">10</text>
<text transform="translate(783,578.5) scale(1,1.05)" font-size="12" font-weight="bold" text-anchor="middle" fill="#000">75</text>
<text transform="translate(783,621.5) scale(1,1.05)" font-size="12" font-weight="bold" text-anchor="middle" fill="#000">4</text>
<text transform="translate(817,112) scale(1,1.05)" font-size="12" font-weight="bold" text-anchor="middle" fill="#000">62</text>
<text x="817" y="161" font-size="14" font-weight="bold" text-anchor="middle" fill="#000">11</text>
<text transform="translate(817,267) scale(1,1.05)" font-size="12" font-weight="bold" text-anchor="middle" fill="#000">0</text>
<text transform="translate(817,345.5) scale(1,1.05)" font-size="12" font-weight="bold" text-anchor="middle" fill="#000">26</text>
<text transform="translate(817,332.5) scale(1,1.05)" font-size="12" text-anchor="middle" fill="#000">40</text>
<text transform="translate(817.5,383.5) scale(1,1.13)" font-size="10" font-weight="bold" text-anchor="middle" fill="#000" letter-spacing="0.25">SSW</text>
<text transform="translate(817,435.5) scale(1,1.13)" font-size="10" font-weight="bold" text-anchor="middle" fill="#000" letter-spacing="0.3">1013</text>
<text transform="translate(817,496) scale(1,1.05)" font-size="12" font-weight="bold" text-anchor="middle" fill="#000">7</text>
<text x="817" y="546" font-size="14" font-weight="bold" text-anchor="middle" fill="#000">11</text>
<text transform="translate(817,578.5) scale(1,1.05)" font-size="12" font-weight="bold" text-anchor="middle" fill="#000">77</text>
<text transform="translate(817,622.5) scale(1,1.05)" font-size="12" font-weight="bold" text-anchor="middle" fill="#000">4</text>
<text transform="translate(851,110) scale(1,1.05)" font-size="12" font-weight="bold" text-anchor="middle" fill="#000">68</text>
<text x="851" y="161" font-size="14" font-weight="bold" text-anchor="middle" fill="#000">12</text>
<text transform="translate(851,267) scale(1,1.05)" font-size="12" font-weight="bold" text-anchor="middle" fill="#000">0</text>
<text transform="translate(851,344.5) scale(1,1.05)" font-size="12" font-weight="bold" text-anchor="middle" fill="#000">27</text>
<text transform="translate(851,331.5) scale(1,1.05)" font-size="12" text-anchor="middle" fill="#000">44</text>
<text transform="translate(851.5,383.5) scale(1,1.13)" font-size="10" font-weight="bold" text-anchor="middle" fill="#000" letter-spacing="0.25">SSW</text>
<text transform="translate(851,436.5) scale(1,1.13)" font-size="10" font-weight="bold" text-anchor="middle" fill="#000" letter-spacing="0.3">1011</text>
<text transform="translate(851,494) scale(1,1.05)" font-size="12" font-weight="bold" text-anchor="middle" fill="#000">8</text>
<text x="851" y="546" font-size="14" font-weight="bold" text-anchor="middle" fill="#000">12</text>
<text transform="translate(851,578.5) scale(1,1.05)" font-size="12" font-weight="bold" text-anchor="middle" fill="#000">76</text>
<text transform="translate(851,621.5) scale(1,1.05)" font-size="12" font-weight="bold" text-anchor="middle" fill="#000">4</text>
<text transform="translate(885,97) scale(1,1.05)" font-size="12" font-weight="bold" text-anchor="middle" fill="#000">100</text>
<text x="885" y="161" font-size="14" font-weight="bold" text-anchor="middle" fill="#000">13</text>
<text transform="translate(885,267) scale(1,1.05)" font-size="12" font-weight="bold" text-anchor="middle" fill="#000">0</text>
<text transform="translate(885,345.5) scale(1,1.05)" font-size="12" font-weight="bold" text-anchor="middle" fill="#000">26</text>
<text transform="translate(885,332.5) scale(1,1.05)" font-size="12" text-anchor="middle" fill="#000">46</text>
<text transform="translate(885.5,383.5) scale(1,1.13)" font-size="10" font-weight="bold" text-anchor="middle" fill="#000" letter-spacing="0.25">SSW</text>
<text transform="translate(885,436.5) scale(1,1.13)" font-size="10" font-weight="bold" text-anchor="middle" fill="#000" letter-spacing="0.3">1010</text>
<text transform="translate(885,492) scale(1,1.05)" font-size="12" font-weight="bold" text-anchor="middle" fill="#000">8</text>
<text x="885" y="546" font-size="14" font-weight="bold" text-anchor="middle" fill="#000">13</text>
<text transform="translate(885,578.5) scale(1,1.05)" font-size="12" font-weight="bold" text-anchor="middle" fill="#000">75</text>
<text transform="translate(885,621.5) scale(1,1.05)" font-size="12" font-weight="bold" text-anchor="middle" fill="#000">4</text>
<text transform="translate(919,97) scale(1,1.05)" font-size="12" font-weight="bold" text-anchor="middle" fill="#000">100</text>
<text x="919" y="161" font-size="14" font-weight="bold" text-anchor="middle" fill="#000">14</text>
<text transform="translate(919,267) scale(1,1.05)" font-size="12" font-weight="bold" text-anchor="middle" fill="#000">0</text>
<text transform="translate(919,344.5) scale(1,1.05)" font-size="12" font-weight="bold" text-anchor="middle" fill="#000">27</text>
<text transform="translate(919,331.5) scale(1,1.05)" font-size="12" text-anchor="middle" fill="#000">47</text>
<text transform="translate(919.5,383.5) scale(1,1.13)" font-size="10" font-weight="bold" text-anchor="middle" fill="#000" letter-spacing="0.25">SSW</text>
<text transform="translate(919,437.5) scale(1,1.13)" font-size="10" font-weight="bold" text-anchor="middle" fill="#000" letter-spacing="0.3">1008</text>
<text transform="translate(919,492) scale(1,1.05)" font-size="12" font-weight="bold" text-anchor="middle" fill="#000">8</text>
<text x="919" y="546" font-size="14" font-weight="bold" text-anchor="middle" fill="#000">14</text>
<text transform="translate(919,578.5) scale(1,1.05)" font-size="12" font-weight="bold" text-anchor="middle" fill="#000">75</text>
<text transform="translate(919,621.5) scale(1,1.05)" font-size="12" font-weight="bold" text-anchor="middle" fill="#000">4</text>
<rect x="425" y="50" width="2" height="620" fill="#000"/>
</svg>
</body></html>
